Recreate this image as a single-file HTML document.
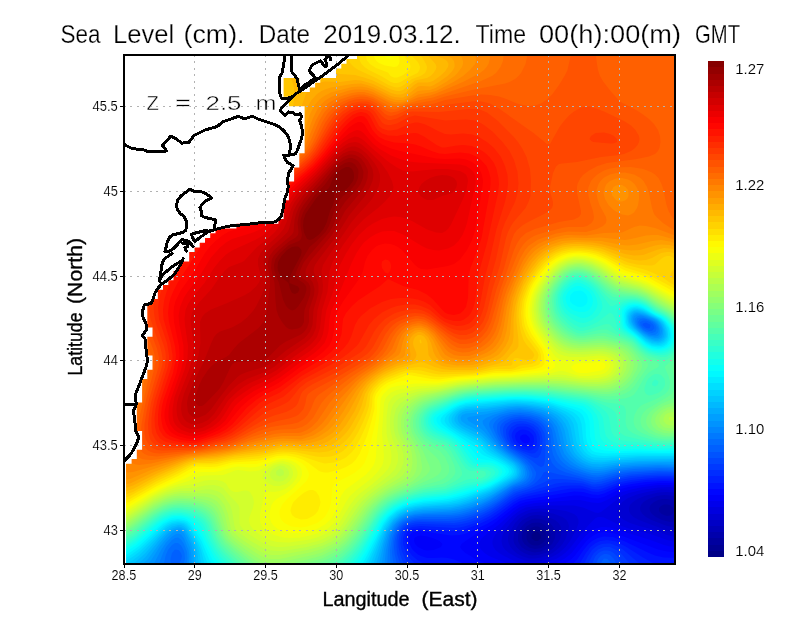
<!DOCTYPE html>
<html lang="en"><head><meta charset="utf-8"><title>Sea Level</title>
<style>html,body{margin:0;padding:0;background:#fff}body{width:800px;height:618px;overflow:hidden}svg{display:block}text{font-family:"Liberation Sans",sans-serif;fill:#000}.t{stroke:#fff;stroke-width:0.12px}.h{stroke:#fff;stroke-width:0.25px}.b{stroke:#000;stroke-width:0.35px}</style></head><body>
<svg width="800" height="618" viewBox="0 0 800 618">
<rect width="800" height="618" fill="#fff"/>
<defs><clipPath id="c"><rect x="124.0" y="55.0" width="551.0" height="509.0"/></clipPath><clipPath id="h"><rect x="126.0" y="55.0" width="549.0" height="509.0"/></clipPath></defs>
<g clip-path="url(#h)" fill-rule="evenodd">
<rect x="124.0" y="55.0" width="551.0" height="509.0" fill="#000086"/>
<path fill="#000093" d="M121 52l558 0 0 516-558 0 0-516zM535 531.5l-3.5 3.5 0 3 3.5 3 3 0 3-3 0-3-3-3-3-0.5z"/>
<path fill="#00009f" d="M121 52l558 0 0 516-558 0 0-516zM532 527.5l-3 2-1.5 2.5-1 3 0 3 1 3 1.5 2 3 2 3 0.5 3 0 3-1.5 3.5-3 1.5-3 0-3-1-3-2.5-3-4.5-2.5-3 0-3 1z"/>
<path fill="#0000ac" d="M121 52l558 0 0 516-558 0 0-516zM532 523l-5 3-2.5 3-1.5 3-1 3 0 3 0.5 3 2 3 4.5 3.5 6 1.5 6-1 3-1.5 3-2.5 2.5-3 1-3 0-3-1-3-2.5-4.5-3-3-3-1.5-3-0.5-6 0.5zM664 504.5l-3 1.5-2 2 0 3 2 2.5 3 1.5 3 1 3-0.5 2.5-1.5 1.5-3-1-3.5-3.5-2.5-2.5-0.5-3 0z"/>
<path fill="#0000b9" d="M121 52l558 0 0 452.5-2.5-2.5-3.5-2-6-1-4.5 0-4.5 1-4 2-3.5 3-1 3 0.5 3 2 3 4 3 6 3 8 2 6-1 3-2 0 49-558 0 0-516zM532 519l-6 3-4 4-2 3-2 6 0 6 1.5 3 2 3 4.5 3 6 2 3 0.5 6-1 6-3 5-4.5 3-6 0.5-6-1-3-2-3-2.5-3-3-2-6-2-6-0.5-3 0.5z"/>
<path fill="#0000c6" d="M121 52l558 0 0 446.5-5.5-2.5-3.5-0.5-6-0.5-7 1-8.5 3-5 3-2.5 3-1 3 0.5 3 2 3 3.5 3 5.5 3 15.5 6 6 1 6-1 0 42-558 0 0-516zM529 516.5l-6.5 3.5-3 3-2.5 4-2.5 5-1 6 0 3 1 3 2 3 3.5 3.5 4 2.5 5 2 3 0.5 6-0.5 9-2.5 4-2.5 3.5-3 4.5-6 1.5-3 1-6-1-6-2-3-3.5-3-8-3.5-9-1.5-6 0.5-3 1z"/>
<path fill="#0000d2" d="M121 52l558 0 0 442.5-6-2-6-0.5-9 0.5-6 1.5-7.5 2-7 3-4.5 3-3 3-1 3 0 3 1.5 3 3 3 5.5 3 28 10.5 6 1.5 6 0 0 36-558 0 0-516zM529 513l-6 3-3 2-5 5-3.5 6-3 6-0.5 3 0 3 1 3 1.5 3 2.5 3 4 3.5 6 3 6 2 6 0 6-1 6-2 5.5-2.5 4-3 3.5-3 2.5-3 3.5-6 2.5-9 0.5-3-1-3.5-1.5-2.5-4-3-9.5-3.5-12-2-6 0.5-6 1z"/>
<path fill="#0000df" d="M121 52l558 0 0 439.5-6-1.5-12-0.5-12 2-12 3-9 3.5-5.5 4-2.5 3-2 3-0.5 3 0.5 3 2.5 3 3.5 3 6 3 9 3 16 4 12 5 6 1.5 6 0.5 0 31-558 0 0-516zM526 511l-6 3-3 2-6.5 7-4.5 6-3.5 6-1 6 0.5 3 1 3 2.5 3 3.5 3 8 4.5 9 3.5 6 1 9-1 12-4.5 6-3.5 6.5-6 4.5-6 6.5-12 2-6 0-3-1.5-3.5-3-2.5-8-3-13-2-12-0.5-9 0.5-6 2z"/>
<path fill="#0000ec" d="M121 52l558 0 0 436.5-9-1.5-12 0.5-16.5 2.5-12.5 3-7 3-3 2-18 14-3 1-3-0.5-12-5-9-2-33 0-9 1-6 1-6 3-3 2-5.5 4.5-6 6-10.5 12-1.5 3-1 3 0 3 1 3 2 3 3.5 3 6 3.5 12 5.5 6 2 6 1.5 6 0 6-1.5 15-5 5-3 4-3 6-6 9-12 9-10.5 6-6 3-1.5 3 0 3 0.5 17.5 8.5 9 3 21.5 5.5 15 5.5 6 1.5 6 0.5 0 26-558 0 0-516z"/>
<path fill="#0000f9" d="M121 52l558 0 0 434.5-9-1.5-12 0-15 2-12 2.5-9 2.5-15 8-6 2.5-3 0.5-6-0.5-12-2.5-6 0-39 3-9 2-6 2-6 4-15 13.5-13.5 10.5-3.5 3-2 3-1 3 0.5 3 2 3 3 3 4.5 3 13 5.5 19.5 6.5-400.5 0 0-516zM595 529l6-2 3 0 6 0.5 39 12 15 5.5 6 1.5 9 0.5 0 21-139 0 16-5 9-4.5 6.5-5.5 9.5-12 5-5.5 6-5 3-1.5z"/>
<path fill="#0006ff" d="M121 52l558 0 0 432-9-1-12 0-12 1.5-17.5 2.5-9.5 2.5-15 7.5-6 1.5-6-0.5-12-2.5-6 0-21 3-21 2.5-6 1-6 2-6.5 4-20.5 16.5-14 7.5-13.5 9-4 3-1.5 3 2 3 3.5 3 10 6 11.5 5 14 4-380 0 0-516zM415 537.5l-0.5 0.5-0.5 3 1 3 3 3 6 3 3 0.5 6.5-0.5 7.5-3 1.5-3-3-3-7-3-5.5-1.5-6-1-3 0.5-3 1.5zM594 535l4-2 6-1 9 1 12 4 33 12.5 9 2 12 1 0 15.5-125.5 0 8.5-3 5-3 4-2.5 3.5-3.5 11.5-14.5 3-3 5-3.5z"/>
<path fill="#0013ff" d="M121 52l558 0 0 430-6-0.5-9-0.5-18 1-14 2-10 2-3.5 1-14.5 6.5-6 1.5-6-0.5-9-2.5-9-0.5-48 8-6 1.5-6 3.5-18 14-9 5.5-21 9.5-6 1.5-9 0.5-30-4.5-8 1-3.5 3-1 3 0.5 4.5 3 6.5 3 3 3 2.5 3 1.5 6 2 6 0 9-0.5 6 0.5 6 1.5 20 8.5-353 0 0-516zM523 434.5l-2.5 1.5-0.5 3 3 3.5 3 1 3-1 0.5-0.5 0.5-3-1-2-3-2.5-3 0zM597.5 538l6.5-1.5 9 0.5 11 4 25 12 6 2.5 9 2 15 0.5 0 10-113.5 0 5.5-3 3.5-3 3-3 6-9 5-6 3.5-3 5.5-3z"/>
<path fill="#0020ff" d="M121 52l558 0 0 428.5-9-1-9 0-15 0.5-15 2-12 2.5-15 6-6 1.5-6-0.5-9-3-3 0-9 0-9 1.5-33 6-9 2.5-6.5 3.5-14.5 11-9 6-12 5.5-15 5.5-6 1-6 0-30-2.5-9 0.5-3 1.5-1.5 1.5-1.5 3-0.5 6 1.5 6 2 4.5 3 4 6 5 6 3 6 1 12 0.5 3 0.5 6.5 2.5-330.5 0 0-516zM520 430l-4 3-1 3 0.5 3 1.5 3 3.5 3 5.5 2 3 0.5 3-1.5 2-4 0-3-0.5-3-1.5-2-3-3-3-1-3-0.5-3 0.5zM600 541l7-1 9 1.5 10.5 5.5 16.5 10.5 9 5 3 1 6 1 18 0 0 3.5-104.5 0 5.5-5 6-10 4.5-6 4.5-3.5 5-2.5z"/>
<path fill="#002dff" d="M121 52l558 0 0 426.5-9-1-12 0-27 2.5-12 2.5-15 5.5-6 1.5-6-0.5-6-2-6-1.5-9 0-9 0.5-39 9-6 2.5-6 3.5-12 9-9 6-12 6-12 4-6 1.5-6 0.5-33-2-9 1-4.5 2-2.5 3-2 6 0 6 3 9 3 4.5 6 6.5 5.5 4-299.5 0 0-516zM520 426.5l-3 0.5-3 2.5-2 3.5-0.5 3 2 6 3 3 6.5 4 6 1.5 3-0.5 3-2 1.5-3 0.5-3-0.5-6-1-3-2.5-3-4-2.5-3-1-6 0zM602 544l5-0.5 3 0 3 1 6 2.5 4.5 3 13.5 11.5 10.5 6.5-66.5 0 2.5-3 4.5-9 4-6 3-2.5 3-2 4-1.5z"/>
<path fill="#0039ff" d="M121 52l558 0 0 424.5-9-0.5-9 0-15 0.5-14.5 1.5-12.5 2-15 5.5-9 1.5-3-0.5-9-3-6-0.5-12-0.5-9 1-39 11.5-6 3.5-12 9-9 6-9 4.5-12 4.5-9 2-6 0.5-33-1-6 0.5-6 1.5-4.5 3-2 3-1.5 6-0.5 6 1 6 2.5 6 2 4 6 8-291 0 0-516zM517 424l-5.5 3-2 3-1 3 0.5 3 2 6 3 3.5 3 2.5 6 3 6 2 3 0.5 3-0.5 3-3 1.5-5 0.5-6-0.5-3-1.5-4-4.5-5-4.5-2.5-6-1-6 0.5zM604 547l6 0 6.5 3 4 3 7.5 8.5 7 6.5-49 0 6-12 2-3 4-3.5 6-2.5z"/>
<path fill="#0046ff" d="M121 52l558 0 0 423-9-0.5-12 0-27 1.5-12 2.5-18 5.5-6 0.5-3 0-9-3-9-1.5-12-1-9 0-6 2-18 8-13 4-5 3-12 9-9 6-9 4.5-12 4.5-6 1.5-9 1.5-33-1-6 0.5-6 1.5-3.5 2-3 3-3 6-1 6 0 6 1.5 7.5 3 7.5 3.5 6-285.5 0 0-516zM520 421l-6 1-3 1.5-3.5 3.5-1.5 3 0 3 1 6 4 6 6 5 15 7 3 1 3-0.5 2.5-3.5 1.5-6 0.5-9-1.5-7-3-4.5-4.5-3.5-7.5-2.5-6-0.5zM598.5 553l2.5-1.5 3-1 3 0 3 0.5 3 1.5 4 3.5 5 7.5 3.5 4.5-35 0 3.5-9 1.5-3 3-3z"/>
<path fill="#0053ff" d="M121 52l558 0 0 421.5-9-1-12 0-27 2-12 2-18 5-6 1-3-0.5-12-3.5-21-4-12-3-2.5 0.5-0.5 0-3.5 6-6.5 6-5.5 3-14.5 5-21 15-9 5-9 3.5-9 3-9 2-9 0.5-30-0.5-6 1-6 2.5-3 2-3 4-2.5 5-1 6 0 6 0.5 6.5 2.5 8.5 2 6-280.5 0 0-516zM511 420.5l-5.5 3.5-2 3-0.5 3 0.5 6 3 6 5 6 19.5 12 7 5.5 3 1.5 2.5-1 0.5-1 1-5 0.5-21-1-6-3.5-6-3-3-3-2-6-2.5-9-1-6 1-3 1zM600.5 556l3.5-2 3 0 3 1 4 4 4.5 9-24 0 3.5-9 2.5-3z"/>
<path fill="#0060ff" d="M121 52l558 0 0 419.5-21-0.5-27 1.5-12 2-18 5-6 0.5-6-1-24.5-7-5.5-2.5-3-2-4-4.5-2-5-1.5-7-0.5-12-1-6-2.5-6-2.5-3-4-3-9-3.5-9-1-6 1-3 0.5-6 3-3.5 3-1.5 3 0 3 0.5 3 1 3 3 6 5 6 17.5 12 5.5 6 3.5 6 0 3-1 3-2 3-3.5 3-3.5 2-12.5 4-14.5 11-9 5.5-9 4.5-9 3.5-9 2.5-9 1.5-9 0.5-21 0-9 0.5-6 1.5-4 2-4 3-2 3-3 6-1.5 6-0.5 6 0.5 6 3 15-276.5 0 0-516zM643 323.5l-0.5 1.5 3.5 3 3 0.5 1-0.5 0.5-3-1.5-1-3-1.5-3 1zM603.5 559l0.5-0.5 3.5 0.5 2.5 3 1.5 6-11 0 1-6 2-3z"/>
<path fill="#006cff" d="M121 52l558 0 0 418-18-0.5-27 1.5-12 1-21 5-6 0.5-6-1-15.5-4.5-7.5-3-4-2.5-4-3.5-2.5-3-2.5-5.5-1.5-6.5-1-12-1.5-6-1.5-3-3.5-4-6-4.5-6-2-9-1.5-9 0-9 3-5 3-2.5 3-0.5 3 0 3 0.5 3 3 6 4 6 6.5 6 13 9 5.5 6 2.5 6 0.5 3-1 3-2 3-4 3-11.5 4-3 2-12 9-9 5.5-9 4.5-9 3.5-9 2.5-9 1.5-9 0.5-21 0-9 1-6 1.5-6 3-3.5 3.5-2.5 3-2.5 6-1.5 6-1 12 2 15-273 0 0-516zM175 549.5l-3 3.5-1.5 6 0 3 1.5 4.5 3 0.5 3-2 3-4.5 1-4.5-1-3-2.5-3-3.5-0.5zM643 320.5l-3 1.5 0.5 3 2.5 3 6 3 3 0 2.5-3-1-3-3.5-3-4-1.5-3 0z"/>
<path fill="#0079ff" d="M121 52l558 0 0 416.5-18-0.5-27 1-15 2-15 3.5-6 1-6-0.5-9-2.5-10-3.5-5-2.5-4.5-3.5-3-3-3.5-6-2-6-2-12-1-6-3.5-6-3-3-4-3-3.5-1.5-9-2.5-9-1-9 1-9 2.5-3 1.5-3.5 3-2 3-0.5 3 1 3 4 9 4.5 6 6.5 6 12.5 9 5.5 6 2.5 6 0 3-1 3-2.5 3-5 3-8 3-17 12-9 5-9 4.5-9 3-9 2.5-9 1-27 0.5-9 1-6 1.5-6 3-3 2.5-4.5 5.5-3.5 9-2 12 0.5 18-208.5 0 3-9-0.5-6-1-3-2.5-4.5-3-2.5-3 0-3 2-4 5-2.5 6-2.5 12-42 0 0-516zM640 319l-2 3 1 3 4 4.5 3 2 6 1.5 3-1 1-1 0.5-3-1-3-3-3-6.5-3-3-0.5-3 0.5z"/>
<path fill="#0086ff" d="M121 52l558 0 0 415-21-0.5-24 1-15 1.5-15 3.5-6 0.5-6 0-6-1.5-9-3.5-6-3-6-5-2.5-3-1.5-3-2.5-6-3-15-2-6-1.5-3-5-5-7.5-4-10.5-3-9-0.5-9.5 0.5-11 3-6 3-3.5 3-1 3 0.5 3 4.5 9 6 9 6.5 6 13 9 5.5 6 2 6 0 3-1 3-3 3-12 5.5-21 14-9 4.5-9 3.5-12 3.5-9 1.5-27 0.5-9 1-6 1.5-6 3-4.5 3.5-2.5 3-2 3-3 6-1.5 6-1.5 9-1 18-201.5 0 2-9-0.5-7-3-8-3-4.5-3-2-3 0.5-3 2-6 7-3 6-4.5 12-2 3-35.5 0 0-516zM637 318.5l-0.5 3.5 1 3 2.5 3 3.5 3 5.5 3 3 1 3 0 1.5-1 1.5-1.5 0.5-1.5 0-3-1.5-3-2.5-3-6-3-5.5-1.5-3 0-3 1z"/>
<path fill="#0093ff" d="M121 52l558 0 0 413.5-21-0.5-24 1-15 1.5-15 3-6 0.5-6-0.5-6-1.5-6-2-6-3.5-4.5-3.5-2.5-3-2.5-3-2.5-6-3.5-15-1.5-6-4-5.5-3.5-3.5-5-3-3.5-1.5-9-2.5-12-1.5-12 1-15 4.5-7 3-3.5 3 0.5 3 10 15 5 6 6.5 6 12.5 9 3.5 3 2.5 3 1.5 3 0.5 3 0 3-1.5 3-3.5 3-9 4.5-21 13.5-9 4.5-9 3.5-12 3-9 1.5-27 1.5-9 1-6 1.5-6 2.5-6 4.5-3 3.5-4.5 9-1.5 6-2 9-2 18-195.5 0 1-12-1-6-4.5-11.5-3-4-3-1-3 1-3 2-6 6-5 7.5-7 13.5-3.5 4.5-29.5 0 0-516zM640 315.5l-3 1-2.5 2.5 0.5 3 1 3 2.5 3 4.5 4 6 3.5 6 1 3-0.5 1.5-2 0.5-3-0.5-3-1-3-2.5-3-5-3-8-3-3-0.5z"/>
<path fill="#009fff" d="M121 52l558 0 0 412-21-0.5-24 1-15 1-15 3-6 0.5-6-0.5-6-1.5-9-4.5-6-5.5-2.5-3-2-3-2-6-2.5-12-2-6-3.5-6-3.5-3-4-3-5-2.5-12-3-12-1.5-12 1-21 5-18 3-2 1 1.5 3 9.5 5.5 6 5 14.5 16.5 20 15 2.5 3 1.5 3 0.5 3-0.5 3-1.5 3-4 3-6 3-21 13-9 4.5-12 4.5-9 2.5-9 1.5-27 1.5-9 1-9 2.5-6 3.5-3 2.5-4.5 5-4.5 9-3.5 12-3.5 21-189.5 0 0-12-1.5-9-6-13.5-3-2.5-3-0.5-3 1-3 1.5-6 6-6.5 8-8.5 13.5-6.5 7.5-23.5 0 0-516zM637 314.5l-3 1.5-1 3 0.5 3 1.5 3 2 3 6 5 6 3.5 6 1.5 3 0 1.5-1 2-3 0.5-3-1-3.5-3.5-5.5-4-3-7.5-3-6-1.5-3 0z"/>
<path fill="#00acff" d="M121 52l558 0 0 410-42 0.5-18 1.5-18 3-9-0.5-6-2-6-3-5.5-4.5-2.5-3-2-3-2.5-6-3-15-2.5-6-5-6-4-3-5.5-3-6.5-2.5-6-1-9-1.5-9-0.5-9 1-21 4-21 2-4 1.5-1.5 3 1 3 4.5 3.5 9 4.5 6 3.5 6 5.5 9 10 20.5 15 2.5 3 1.5 3 0.5 3-0.5 3-2 3-1.5 1-24 15-9 4.5-12 4.5-12 3.5-9 2-27 1.5-9 1-9 2.5-6 3.5-7 6-5.5 9-4 12-5.5 24-184 0-0.5-15-2.5-9-4-8.5-3-5-3-2-3 0-3 0.5-3 1.5-5.5 4.5-7.5 9-11 15-9.5 9-17.5 0 0-516zM634 314l-1.5 2-1 3 0.5 3 1.5 3 2.5 3 4 4 6 4 6 3 3 0.5 3 0 3-1.5 1-1 1-3 0-3-0.5-3-1.5-3-2-3-4-3-9-4-6-1.5-3-0.5-3 1z"/>
<path fill="#00b9ff" d="M121 52l558 0 0 408.5-39 0.5-21 1.5-18 2-9-0.5-3.5-1-5.5-2.5-4.5-3.5-3-3-2-3-2.5-6-3-15-2.5-6-4.5-6-3.5-3-7.5-4-6-2.5-9-1.5-9-1.5-9 0-9 0.5-21 3-21 2-3.5 1-4 3-1 3 0.5 3 2 3 4.5 3 10.5 5 6 3.5 16 15.5 17.5 12 2.5 3 2 3 0.5 3-1 3-2 3-2.5 1.5-21 12.5-9 4.5-15 6-9 2.5-9 2-27 1.5-9 1.5-9 2.5-6 3-6 4.5-2.5 3-5.5 9-4 12-7 24-178.5 0-0.5-3-0.5-12-1.5-6-2.5-6-4.5-9-2-3-4-2-3-0.5-6 2-5 3.5-8.5 9-13.5 16.5-6 5.5-6 4.5-1 0.5-11 0 0-516zM634 312.5l-3 3-0.5 3.5 0.5 3 1.5 3 2 3 8.5 7.5 6 3.5 6 2 3 0 3-1 3-3 0.5-3 0-3-2.5-6-2-3-3.5-3-13.5-6-6-1-3 0.5z"/>
<path fill="#00c6ff" d="M121 52l558 0 0 407-42 0.5-18 1-18 2-9-0.5-5-2-4-2.5-3.5-3.5-2.5-3-3-6-3.5-18-2.5-6-2.5-3-3.5-3-5-3-6.5-3-12.5-3-12-1.5-9-0.5-9 0.5-21 3-21 1.5-6 2-4 4-1.5 3 0 3 2 3 3.5 3 3 2 12 6 6 3.5 13.5 12.5 18 12 3 3 1.5 3 0.5 3-0.5 3-3 3-24 14-21 8.5-9 3-9 1.5-27 2-9 1.5-9 2.5-6.5 3-7 6-6.5 9-5 12-9 27-172.5 0-0.5-3-2-15-3.5-9-6.5-12-3-2.5-3-1.5-3 0-6 1.5-6 4-7.5 7.5-13.5 15.5-9 8-10 6.5-5 0 0-516zM634 311l-3 2-1.5 3-0.5 3 0.5 3 1.5 3 2.5 3 12.5 10.5 6 3 6 1 3-1 2.5-1.5 2-3 0.5-3-0.5-3-2-6-2.5-3-3.5-3-14.5-7-6-1.5-3 0.5z"/>
<path fill="#00d2ff" d="M121 52l558 0 0 405.5-42 0-33 3-9.5-0.5-5.5-2-3-1.5-3-2.5-3-4-3.5-8-3-18-3.5-6-5-4-9.5-5-8.5-3-6-1-12-1.5-12-1-6 0.5-21 2.5-15 1-9 1-6 2-4 2.5-3 3-1.5 3 0 3 1.5 3 3 3 4.5 3 17.5 9 3 2 10 10 20 13 2.5 2 2 3 0.5 3-1 3-3.5 3-21.5 12.5-21.5 8.5-11.5 3.5-9 1.5-24 2-9 1-9 2.5-8.5 4.5-7 6-6 9-4 9-11.5 30-166 0-2-6-1.5-9-1.5-6-2.5-6-5.5-9.5-3-4.5-3-2.5-3-1-3 0-6 1-6 3.5-27 27.5-6 4.5-12 7.5 0-515.5zM634 310l-3 1.5-1.5 1.5-1.5 3 0 3 0.5 3 1.5 3 2 3 14 11.5 6 3.5 6 0.5 3-0.5 3-1.5 3-4.5 0.5-3-1.5-6-3.5-6-4.5-3.5-15-7.5-6-1.5-3 0.5z"/>
<path fill="#00dfff" d="M121 52l558 0 0 404-39 0-36 2-9-0.5-3-0.5-5-3-3-3-2-3-2-6-2.5-18-3-6-3-3-3.5-2.5-7.5-3.5-7.5-3-9-2-12-2-12-0.5-9 0-45 4.5-8.5 3-4.5 3-3 3-1.5 3 0 3 1.5 3 2.5 3 7.5 5 18 9.5 3 2.5 6.5 7 4.5 3 13 7.5 6 4.5 2.5 3 0.5 3-1.5 3-3.5 3-19 11-6 2.5-18 6.5-9 2.5-9 2-24 2-9 1.5-9 2-9 4.5-6 5-6.5 8.5-4 9-14.5 33-159.5 0-2.5-6-3-12-2.5-6-8.5-15.5-3-3.5-3-2-6-1-6 1-6 3-27 26-6 4.5-12 7.5 0-512zM631 310l-3 3-1 3 0 3 1.5 6 2 3 3.5 3 12 10 6 3 6 1 3-0.5 3-1.5 3-3 1-3 0-6-2.5-6-2-3-3.5-3-14-7.5-6-2.5-6-0.5-3 1.5z"/>
<path fill="#00ecff" d="M121 52l558 0 0 402.5-42 0-33 1.5-6-0.5-6-1.5-4-3-3.5-6-1.5-6-1.5-15-2-6-2.5-3-4-3-6.5-3-16.5-5.5-18-2.5-18-1-39 3.5-9 1-6 1.5-5.5 3-7.5 6-2 3-0.5 3 1.5 3 3 3 8 5.5 21 12 5.5 6.5 3.5 3 12.5 6 8.5 5.5 3 3.5 1 3-1 2-5 4-16 9.5-24 9-9 2.5-9 2-24 2-9 1.5-9 2.5-9 4-7.5 6-6.5 9-13 28.5-7 13.5-152.5 0-3.5-6-6.5-18-10.5-18-3-3-3-1.5-6-1-6 1-4 1.5-4.5 3-24.5 23-9 6.5-9 5.5 0-509zM631 308.5l-3 2-1.5 2.5-0.5 3 0 6 1 3 2 3 17 14 6 3.5 6 0.5 3 0 3-1 2.5-2 2-3 1-3 0.5-3-1.5-6-4.5-6.5-3-3-18-9.5-6-1.5-3 0-3 1z"/>
<path fill="#00f9ff" d="M121 52l558 0 0 401-18 0-24-0.5-30 1-6-0.5-6-1-3-1.5-2-2.5-3-6-1-6-0.5-12-1.5-6-1.5-3-3-3-6-3-23.5-7-18-2.5-18-0.5-39 3-9 1-9 3-5.5 3-8 6-2.5 3-0.5 3 1.5 3 7.5 6 22.5 15 4 3 5.5 6 2.5 1.5 12 5 9 5 3.5 3.5 0.5 3-2 3-8 6-9 5-6 2.5-23 7.5-10 2.5-9 1.5-18 1.5-12 2-9 3-8 4.5-7 6-4.5 6-16.5 32.5-7 12.5-145.5 0-5.5-9-7.5-18-9.5-15-2.5-3-2.5-2-3-1-6-1-7 1-8 4-24 22-9 6.5-9 5.5 0-506zM631 307l-4.5 3-1.5 3-0.5 3 0.5 6 1 3 2 3 18 15.5 6 3 6 1 3 0 3-1 3-2 3-4.5 1-3 0-3-1.5-6-3.5-6-5-4-6-3-12-7-6-2-6 1z"/>
<path fill="#06fff9" d="M121 52l558 0 0 399-18 0.5-24-1-21 1-12-1-6-1.5-3-1.5-2.5-2.5-1-3-1.5-6-0.5-15-2-6-2.5-3-3.5-3-4.5-1.5-24-6.5-15-2-21-1.5-42 3-9 1.5-6 1.5-6 2.5-14.5 9-3 3 0 3 1.5 3 3 3 14.5 9 12 9 5.5 6 5 6.5 3 1.5 12 2 4.5 2 5 3 2.5 3 1 3-2 3-8 6-6 3.5-6 2.5-33 10-9 1.5-18 1.5-12 2.5-9 2.5-9 5-6 5-6.5 8-14.5 28.5-10.5 16.5-138 0-6.5-9-10-21-9.5-15-5.5-3.5-3-1.5-6-0.5-3 0-6 1.5-7 4-26 22.5-15 9.5 0-503zM574 291.5l-3.5 3.5-0.5 3 0 3 2.5 3 4.5 2.5 3 0.5 3-0.5 3-2 1.5-3.5 0-3-1.5-3.5-3-3-3-1-3 0.5-3 0.5zM628 306.5l-3.5 3.5-1 3 0 6 1 6 1.5 3 3 3 8 5.5 9 8.5 6 3 6 1 3-0.5 3-0.5 3-1.5 3-3 1.5-3.5 1-3-0.5-6-3-6-5-6-3-2-8.5-4-6.5-4.5-6-3-6-0.5-3 0.5-3 1z"/>
<path fill="#13ffec" d="M121 52l558 0 0 397.5-18 0.5-24-1-18 0.5-12-1.5-6-2-3-2-3-5-0.5-6-1-12-1.5-6-2-3-3-3-4-3-3-0.5-30-6.5-24-2-18 0-33 2.5-9 1-6 1.5-6 2.5-18 10-2.5 3.5 0 3 1 3 4.5 4.5 13 7.5 8 6 6.5 6 8.5 12 3 2.5 12 0 3 1 5.5 2.5 3 3 1 3-1.5 3-3.5 3-4.5 3-9 4.5-36 10.5-24 2.5-12 2.5-9 3-9 4.5-7 5.5-5 6-18 32.5-6 9-5 6.5-130 0-9-11-12-23.5-7-10.5-5-4-3-1.5-6-1.5-6 0-3 0.5-9 4-6 4-21 18.5-6 4-9 5.5 0-500.5zM571 289l-3 3-1.5 3-1 3 0.5 3 1 3 2 3 5 3.5 6 1.5 3 0 3-0.5 3-1.5 3-4.5 1-4.5-1-4.5-2.5-4.5-3.5-3-6-3-3 0-3 1-3 2zM634 304l-6 1-3 2-2.5 3-0.5 3 0.5 9 0.5 3 1.5 3 3 3 8.5 6 7 7 6 4 6 2 6 0 6-2 3-2 2-3 1.5-3 0-6-1.5-6-4-6-4-4-3-2-7-3-8-5.5-6-3-6-0.5z"/>
<path fill="#20ffdf" d="M121 52l558 0 0 396-18 0.5-24-2-18 0.5-6-1-6-2-3.5-2-2.5-3-1-3-1.5-15-2-6-4.5-6-3.5-3-5.5-2.5-33-6-24-2-18 0.5-33 2-9 1.5-6 1.5-6 2-18 9-3.5 3-1.5 3-0.5 3 1 3 2 3 3 3 14.5 7.5 6 4.5 5.5 6 8.5 12 2.5 3 4.5 2 9-0.5 6.5 1.5 4.5 3 1 3-1 3-3.5 3-4.5 3-7 3-14 3.5-21 6.5-6 1-18 2-12 2.5-9 3-9 4-6 4.5-3 3-5 6-19 33-6 8.5-5.5 6.5-122 0-7.5-7.5-5.5-7.5-5-9-7.5-16.5-3.5-4.5-3.5-3-5-3-3-1-6-1.5-9 0.5-9 3.5-6.5 4.5-20.5 17.5-6 4-9 5.5 0-498zM577 282.5l-3 1-3 2-3 2.5-3.5 4-1.5 3-0.5 3 1 6 1.5 3.5 2 2.5 4 3.5 9 4 3 0.5 3-0.5 3-1 3-2 3.5-4.5 1.5-3 0.5-3-1-6-3-6-4.5-4.5-6-3.5-3-1-3-0.5zM628 303.5l-3 1.5-3 2-1.5 3-0.5 3 1.5 12 1 3 2.5 2.5 9.5 6.5 8.5 8.5 3 2 6 3 6 1 3 0 6-1.5 3-2 4-5 1-3 0-6-1-3-2.5-6-4.5-5.5-4.5-3.5-7.5-3.5-6-4.5-6-3.5-6-1.5-3-0.5-6 1z"/>
<path fill="#2dffd2" d="M121 52l558 0 0 394-21 0.5-21-2-18-0.5-6-2-4.5-3-2.5-3-1.5-6-1.5-12-3.5-6-6.5-6-5-3-5-1.5-36-5.5-24-1.5-15 0-33 2.5-9 1-6 1.5-6 2-21 10.5-3 3-1.5 3-0.5 3 0.5 3 1.5 3 3 3.5 4 2.5 12.5 6 4 3 6 6 7.5 12 2.5 3 2.5 2 3 1.5 3 0.5 9 0 6 1.5 2.5 3.5-1 3-3.5 3-4 2.5-6 2.5-15 3-21 7-18 2-12 2.5-12 3.5-9 4-8 6-5.5 6-19.5 32.5-9 11.5-6.5 7-114 0-11.5-11.5-4.5-6.5-5-9-6.5-15-2-3-3-3-6-3.5-6-2.5-6-1-9 0.5-9.5 3.5-8.5 6-18 15-6 4.5-9 5 0-495.5zM577 280l-3 1-4 2-5 5-3 4-2 6 0.5 6 1.5 4 3 5 6 5 6 3.5 3 1 3 0.5 3-0.5 6-2.5 6-4.5 3.5-5.5 1-3-0.5-3-0.5-3-3-6-4-6-3.5-3-5-3.5-6-2.5-3 0zM625 303l-2.5 1-3.5 3-1.5 3 0 3 1.5 6 0.5 6 1 3 2.5 3 11 7 9 9 6 4 6 1.5 6 1 6-1.5 4.5-3 2.5-3 1.5-3 1-3 0-6-2-6-4-6-2.5-3-4-3-9-4.5-9-6.5-6-2.5-3-1-6 0-6 1.5z"/>
<path fill="#39ffc6" d="M121 52l558 0 0 392.5-12 0.5-9-0.5-36-4-4-1.5-4-3-2-3-1-3-2-12-1-3-2-3-3.5-3-4-3-5.5-3-7.5-3-35.5-5-24-1.5-18 0-30 2-12 1.5-12 3.5-21 9.5-3 2-2.5 3-1.5 3-0.5 3 0.5 3 1 3 2 3 3.5 3 3.5 2 12 5.5 5.5 4.5 4.5 6 7.5 12 3.5 3.5 3 1.5 3 0.5 9 0 3 1 4 2.5-0.5 3-3 3-6.5 3-15 2.5-21 7.5-21 2.5-9 2-15 5-8.5 4.5-6.5 5-4 4-4.5 6-9.5 16.5-9 13.5-9 10.5-8 7.5-106 0-12-12-6-7.5-5.5-10.5-5-12-1.5-3-2.5-3-4-3-6-3-5.5-1.5-6-1-6 0-6 1-9 4-6 4.5-18 15-6 4-9 5 0-493zM571 280l-6 5-3.5 4-3 6-0.5 6 1 6 3 6.5 6 6.5 6 4.5 6 3 3 0 6-1.5 8.5-4 12.5-9.5 3 2 2 4.5 1.5 6 1 3 2.5 3 4.5 3 9.5 5.5 9 9 6 4 9 2.5 6 0 3-1 3-1.5 3-2.5 3-4 2-6 0-3-1-6-3-6-2.5-3-4.5-5-3-2-9-4.5-9-6.5-3-1.5-6-2-6-0.5-6 1-8 3-4 2-3 0-12.5-17-7-6-5-3-5.5-2-3 0-6 2z"/>
<path fill="#46ffb9" d="M121 52l558 0 0 281.5-2-5.5-2-3-5-6.5-6-4.5-8-4-10-7-6-3-6-1-6 0-12 1.5-3 0-3-1.5-3-2.5-10-10.5-3.5-3-7.5-4.5-6-2.5-3 0-4 1-5 3-3.5 3-2.5 3-4 6-1 3-1 6 0 3.5 1.5 5.5 3 6 7.5 8 5 4 4 2 3 1 3 0 6-1.5 15-5 3-0.5 3 0.5 6 6.5 3 2 13.5 7 7.5 7.5 6 5 6 2.5 9 2 3 0 3-0.5 6-4 3.5-3.5 2.5-6 0 99.5-12 1-12-1-17.5-3.5-12.5-3-4.5-3-2-3-0.5-3-1.5-12-1.5-3-3.5-3-6-3-14-6-5.5-1.5-36-5-24-1.5-21 0.5-27 2-12 1.5-12 3-23 10-3.5 3-2.5 3-1 3-0.5 6 2.5 6 4 4.5 6 3.5 10 4 4 3 5 6 7 12 4 5.5 3 2 3 0.5 9-0.5 3 0.5 1.5 1 0.5 3-2 2-3 1.5-12 0.5-3 1-16 7-5 2-21 3-12 3-12 4-9 4.5-6 4.5-6 6-4.5 6-13.5 22.5-9 11.5-9 8.5-7.5 5.5-96.5 0-15.5-15-5-6-5-9-5.5-14-3-4.5-3-2.5-6-3.5-6-2.5-6-1-6-0.5-6 1-6 1.5-4.5 2-7.5 5-21 17-12 6.5 0-490.5zM655 379.5l-2.5 2.5-0.5 3 3 1.5 2.5-1.5 1-3-0.5-1-3-1.5z"/>
<path fill="#53ffac" d="M121 52l558 0 0 277.5-4.5-7.5-6-6-4.5-3-6-3-12-8.5-6-2.5-6-1.5-15 0-6-0.5-6-4-9-8.5-5.5-4.5-6.5-3.5-6-2-3 0-6 1.5-6 4-3 3-3 4-3 5-1 3-1 6 1 9 1 3 3 5 3 4 6 5.5 5 3.5 4 2 3 0.5 3 0 18-4 6 0 8.5 4.5 15.5 7 3 2 6 7 6 4.5 3 1.5 12 4 3 0 3-0.5 3-2 6-5 3-4.5 0 93-12 0.5-12-1-15.5-4.5-7-3-4-3-2-3-1-6 0.5-9-0.5-3-1.5-3-5-2-9-1-6-1-16.5-5-37.5-5-24-1-24 0.5-24 2-12 1-12 3.5-24 9.5-3 2-3 3.5-2.5 5-0.5 3 0.5 6 2.5 5 3 3.5 6 4 12 5 3 2.5 3 4 10 18 1 3 0 3-2.5 3-4 3-10.5 5.5-3 0.5-15 2-9 2.5-18 6-6 2.5-6 3.5-6 5-5 5.5-16 25-9 11.5-9 8.5-6 4.5-7 4.5-87.5 0-16.5-15.5-6-7-4-7.5-6-15-4.5-6-3.5-3-6-3-6-1.5-6-1-6-0.5-6 0.5-6 2-6 2.5-6 4-21 16.5-12 6.5 0-488zM652 375.5l-4 3.5-1.5 3-2 6 0 3 1.5 3 3 1.5 3-0.5 6-2 3-2 2.5-3 1.5-3 0-3-0.5-3-3.5-4-3-1-3 0-3 1.5zM477.5 475l0.5-0.5 3 0.5-3.5 0z"/>
<path fill="#60ff9f" d="M121 52l558 0 0 275-3.5-5-5.5-6-3.5-3-11-6-9.5-6.5-9-3.5-6-1-12-0.5-6-1.5-6-4-9-8-6-4.5-6-3-6-1.5-3 0-6 1-4.5 3-4.5 4-4 5-3.5 6-1.5 3-1 6 1 9 3 8 6 7.5 6 5.5 3 1.5 6 3 6 0.5 15-2.5 6-0.5 3 0.5 18 6.5 6 3 9 9 6 5 3 2 6.5 2 3.5 3-0.5 3-6.5 3.5-3 2-3 3-2.5 3.5-6.5 11.5-3 4-3 2-6 2-12 1-6 0-21-4.5-33-4-21-1-21 0-33 2-15 2-10.5 3-23 9-5.5 4-4 5-1.5 6 0.5 6 1 3 4 6 3 3 6 4 9 4 4.5 4 4 6 4 9 1 6-1 3-2.5 3-3.5 3-6 3-21.5 4.5-24 8.5-9.5 5-7.5 6-5 6-14 21.5-6 8-6 7-6 5.5-6 4.5-6 3.5-8 4-76.5 0-17.5-16-7.5-8-4.5-8-6-15.5-3-4-3-3-6-3.5-6-2-6-1-6-0.5-6 0-6 1.5-6 2-9 5-21 16.5-12 6.5 0-486zM677 355l2-2.5 0 86.5-9 0.5-6 0-6-1-6-1.5-10-4-4.5-3-2.5-3-1-3-0.5-3 1-6 2.5-5 3.5-4 2.5-1.5 12-5 5-2.5 5-3 3-3 1.5-3 0.5-6-1.5-6-4-9 12.5-12z"/>
<path fill="#6cff93" d="M121 52l558 0 0 272.5-6-7-5-4.5-10-5.5-9-6.5-6-3.5-6-2-18-2-6-2-6-4-13-10.5-5-3-6-2-6-0.5-3 0-6 2.5-6 5-4 4-4 6-2.5 6-1.5 6 0 6 1.5 6 2.5 6 5 6.5 5.5 5.5 4 3 5.5 2.5 3 1 6 0.5 15-2 6 0 18 5 5.5 2 3.5 2.5 15 15.5 2 3-0.5 3-13.5 19.5-4.5 4.5-4.5 2.5-6 2-9 1-9-0.5-15-2.5-27-3-18-1.5-27 0-36 2-12 1.5-9 2-24 8-6 3-5 3.5-4.5 6-2 6 0.5 6 2.5 6 5.5 7.5 6 5 10 5.5 5 6 4 9 0 3 0 3-1.5 3-3 3-5.5 3-15 4-24 9-9 4-6 3.5-6 5-6 7-15 22.5-9 11-6 5.5-6 4.5-9 5.5-9 3.5-6 2-62 0-19-16.5-7.5-7.5-5.5-9-6-15-4-6-3.5-3-3.5-2-6-2-6-1.5-9-1-6 0.5-6 1-6 2.5-10 5.5-20 15-12 7 0-484zM677.5 358l1.5-1.5 0 80.5-12 0.5-9-1-9-3.5-4-3-3-3-1-3-0.5-3 0.5-3 1-3 2-3 3-3 20.5-12 4-3 2-3 1-3 0.5-6-2.5-12 0-3 1-3 4-6z"/>
<path fill="#79ff86" d="M121 52l558 0 0 270.5-9-9.5-12-7-12-8-9-3.5-15-2.5-6-1.5-6-3-13.5-10.5-7.5-4.5-6-2-6-0.5-6 1-5.5 3-6.5 6-5 6-3 6-2 6-1 6 0.5 6 2 6 2.5 5.5 3 4 6 6.5 6 4 6 3 3 0.5 6 0.5 15-1.5 6 0 18 4.5 6.5 3 3.5 3 5 6 4 6 1 3 0 3-1 3-8 12-5 5.5-3 2-6 2.5-9 2-9 0-18-2.5-36-3.5-24-0.5-27 1-24 2-12 2-27 8.5-9 4-5 4-4.5 6-1.5 6 0 6 2 6 4 6 8 9.5 9 8.5 3 3.5 2 5.5 0.5 3-1 3-2.5 3-5 3-24 10.5-15 6-6 3-6 4-4 3.5-5.5 6-14.5 21.5-9 11.5-6 5.5-6 4.5-6 3.5-9 4-21.5 6.5-44.5 0-6-4.5-15-12.5-9-8.5-5-7.5-7-18-5-6-4-3-3-1.5-12-3-9-0.5-6 0.5-6 1-6 2-6 3-6 4-18 13.5-12 6.5 0-481.5zM678.5 364l0.5-1 0 13-1-6 0.5-6zM677.5 394l1.5-3 0 44-9 1-6-0.5-8-2.5-5-3-3-3-1.5-3-0.5-3 0.5-3 1.5-3 2-3 3.5-3 7.5-5 12-5.5 2-1.5 2.5-3z"/>
<path fill="#86ff79" d="M121 52l558 0 0 268.5-9-9-12-7-12-8-9-3.5-15-2.5-6-2-6-3.5-15-11-6-3-6-2-6-0.5-6 1-6 3-5.5 4.5-5 6-4 6-2.5 6-1.5 6 0 9 1.5 6 3 6 5 7 5 5 4 3 6 3 9 2 6 0 12-1.5 9 0.5 15 4 6 3.5 6 6.5 3 6 1 3-0.5 3-1 3-5.5 9.5-5.5 5.5-4.5 3-8 3-6 1-9-0.5-39-4-12-1-24 0-27 1-24 2-12 1.5-29 9-7.5 3-5.5 4-4.5 5-2.5 6-1 6 0.5 3 1.5 6 3 5.5 8 12.5 6.5 15 0.5 3-1 3-2.5 3-8 6-11 6-16.5 7-6 3.5-6 4.5-9 9-15 22-9 10.5-6 5-6 4-12 6-33.5 9.5-26.5-0.5-6-3-6-4.5-15-12-7.5-7-2.5-3-3-6-5.5-15-2.5-4.5-3-3.5-3-2-6-3-12-2.5-9-0.5-6 0.5-6 1.5-6 2-11 6-22 16-9 4.5 0-479.5zM672 403l4-1.5 3-1.5 0 32.5-9 1-6-0.5-3-1-4.5-2-3.5-3-1.5-3-0.5-3 0.5-3 1-3 2.5-3 3.5-3 5.5-3.5 8-2.5z"/>
<path fill="#93ff6c" d="M121 52l558 0 0 266.5-5.5-5.5-3.5-3-10.5-6-13.5-9-9-3.5-15-3-6-2-6-3.5-12-9-9-4.5-6-2-6-0.5-6 1-6.5 3-5.5 4.5-6 7-4 6.5-2.5 6-1.5 6 0 9 1 6 2.5 6 4.5 6.5 6 6.5 6 4.5 6 3 9 1.5 18-1 6 0 12 2.5 9 4 3 2.5 2.5 3 3 6 0.5 3-1 6-3 6-2.5 3-3 3-5.5 4-6 2.5-6 1-12 0-36-3.5-12-1-24 0-30 1.5-21 2-12 1.5-30 8.5-9 3.5-5.5 4-5 6-2.5 6-1 6 1 6 1 3.5 3 5.5 5.5 9 2.5 6 2 12 0 3-1 3-1.5 3-6.5 6-5 3-17 7.5-6 3.5-6 4.5-6.5 5.5-5 6-12.5 18.5-9 11-6 5-6 4-12 6-9 2.5-33 8.5-9 0-6-1-3-1.5-6-3-9-6.5-12-9.5-6-5.5-5-7.5-6-18-4-6-4-3-5-2.5-12-2.5-9-1-6 0.5-6 1-9 2.5-12 6.5-21 15.5-9 4 0-477zM672.5 406l6.5-1 0 25-9 1.5-7-1.5-5-3-2-3-1-3 0.5-3 1.5-3 4-4.5 6-3 5.5-1.5z"/>
<path fill="#9fff60" d="M121 52l558 0 0 264.5-9-8-9-5-15-10-9-3.5-15-3-6-2-6-4-12-8.5-9-5-9-2-6 0.5-6 1.5-6 3.5-6 5.5-6 8-4 7.5-2 6-1 9 0.5 6 1.5 6 3 6 5 6.5 6 6.5 6 4 6 2.5 9 1.5 18-1 6 0 9 2 6 2 3 1.5 3 2.5 3 3.5 2 4.5 0.5 3-1 6-1.5 3-3 4.5-5 4.5-4 2.5-6 2.5-6 1-12-0.5-36-3.5-18-0.5-42 1.5-27 2.5-12 2-28 7.5-5 1.5-6 3-6 4.5-3 3-3.5 6-1.5 6 0 6 1.5 6 2.5 6 6 9 2.5 9 0.5 6-0.5 6-1 3-1.5 3-3 3-3.5 3-19.5 9.5-12 8.5-9 9-15 21.5-7 8.5-5 4.5-6 4-12 6-9 2.5-33 7.5-9 0.5-5-1-4-1.5-9-5.5-15-11-6-5-3-3.5-3.5-6.5-4.5-15-3-6-2.5-3-4-3-3.5-1.5-9-2-18-1-6 0.5-9 2-12 6-24 16.5-9 4.5 0-475zM671.5 409l7.5-0.5 0 18.5-6 1.5-6-0.5-3.5-1-3-3-1-3 0-3 1.5-3 3-3 3-2 4.5-1z"/>
<path fill="#acff53" d="M121 52l558 0 0 262.5-8.5-7.5-21.5-13-9-4.5-18-4-6-2.5-18-12.5-9-4.5-9-2-6 0.5-6 1.5-6 3.5-6 5-7 8.5-3.5 6-2.5 6-1.5 6-0.5 9 2 9 3 6 4 6 6 7 6 5 6 3 6 1.5 6 0.5 18-1 6 0 9 2 6.5 3 3.5 3 2.5 3 1 3 0.5 3-1 6-3.5 6-3 3-4 3-5.5 2.5-6 1-6 0.5-9 0-27-3-12-0.5-24 0-36 2-21 2-12 1.5-30 7.5-6 2-5 2.5-4.5 3-6.5 6-3 6-1 6 0 6 1 6 2.5 6 6 9 1.5 6 0.5 9-1 6-1 3-2 3-5.5 5-18 10-12.5 9-8.5 9-14.5 21-6.5 7.5-9 7-12 5.5-12 3.5-30 6.5-9 0-3-0.5-6-2-6-3.5-12-8-6-4.5-6-5-2.5-3.5-1.5-3-3.5-15-2.5-6-2-3-3-3.5-3-2-3-1.5-6-1.5-24-1-9 1-6 2-12 5.5-24 16.5-9 4.5 0-473zM672.5 412l3.5 0.5 3 1 0 9.5-3 1.5-3 1-3 0-3-1-1-0.5-2.5-3 0-3 1.5-3 2-1.5 3-1 2.5-0.5z"/>
<path fill="#b9ff46" d="M121 52l558 0 0 260-6-5-24-14.5-9-4.5-21-5.5-6-3-12-9-9-5-9-2.5-6 0-9 1.5-6 3-6 5-6.5 7.5-4 6-4.5 9-1.5 6-0.5 9 2 9 2.5 6 4 6 7.5 9 4 3.5 6 3.5 6 2 9 1 18-1 6 0 6 1.5 6 2.5 3 2 2.5 3 1.5 3 0.5 3-1 6-3.5 6-3.5 3-5.5 3-6 1.5-6 0.5-15-0.5-21-2.5-12 0-54 1.5-30 3-9 1.5-18 4.5-15 3-6 2-6 3-6 4-5 5.5-3 6-0.5 6 0 6 1 6 2.5 6 5.5 9 1.5 6 0 9-1.5 6-1.5 3-2 3-3.5 3-17.5 10.5-9 7-6 5-6.5 7.5-14.5 21-6 7-9 6-9 4-15 4-27 5-9 0-9-2.5-9-5.5-9-6-6-4.5-5-4.5-2-3-3-15-3.5-9-4.5-6-3-2.5-3-1.5-6-1.5-27-0.5-6 1-9 2.5-12 5.5-24 16.5-9 4 0-470.5zM668.5 418l1.5-1.5 3 0.5 1.5 1-1.5 2.5-3 0.5-1.5-3z"/>
<path fill="#c6ff39" d="M121 52l558 0 0 258-6-5-24-14.5-9-4-21-6-6-3-12-9-9-4.5-9-2.5-6 0-9 1.5-6 3-6.5 5-7.5 9-4.5 6-4 9-2 9 0 6 1.5 9 2.5 6 5.5 8.5 6 7.5 6 5.5 6 3.5 6 1.5 9 0.5 18-1 6 0.5 6 1.5 4.5 2 3 3 2 3 0.5 3 0 3-0.5 3-3.5 5-6 4.5-6 2-6 0.5-15 0-21-2.5-9-0.5-57 2.5-30 3-9 1-18 4.5-18 3-9 3.5-7 3.5-5 3.5-4 5.5-1.5 6-1 6 0.5 9 1.5 6 6 12 2 6 0 9-2.5 6-4.5 6-25 18-10 9-4.5 6-12 18-5 6-8 6-10 5-15 4-24 4-6 0-6-0.5-9-3-12-7-12-8.5-2.5-3-1-3-2.5-15-2-6-2-3-5-7-3-2.5-3-1.5-6-1.5-6 0-9 1.5-15 0-6 1-9 2.5-12 5.5-24 16-9 4.5 0-468.5zM280 468.5l-3 2-1 1.5 0.5 3 3.5 1.5 3.5-1.5 0.5-3-1-2-3-1.5z"/>
<path fill="#d2ff2d" d="M121 52l558 0 0 255.5-6-4.5-24-14-9-4-21-6-3.5-2-14.5-10-9-4.5-9-2.5-9 0-6 1.5-7.5 3.5-7 6-7.5 9-4 6-4.5 9-1.5 6-0.5 9 1.5 9 2 6 5 8 9 11.5 4.5 4.5 4.5 2.5 6 2 6 0.5 9 0.5 18-1 6 1 3 1 3.5 2.5 2.5 3 1 3 0 3-1 3-2 3-3 3-4 2-9 2-15 0-18-2.5-9-0.5-63 3.5-30 3-24 5-21 3-8 2.5-10 4-3 2-2.5 3-2 3-1.5 5.5-1 6.5 0 9 1 6 1.5 6 4.5 11 1 4 0 6-0.5 3-2.5 6-5.5 6-23 18-6.5 6-7.5 9-9.5 15.5-6 7.5-6 4-9 4.5-6 2-10.5 2.5-13.5 2-9 1-6 0-6-1-9-3.5-12-7.5-7-6-2.5-3-1-3 0-15-1-3-2.5-3-7-7-6-7-3-1.5-6-1.5-9 0.5-9 2-15 1-9 2-6 2-12 5.5-24 16-9 4 0-466zM280 465.5l-3 1-4 2.5-2.5 3-0.5 3 1 3 3 2.5 3 1 3 0 3-0.5 4-3 2-3 0-3-1-3-4.5-3-3.5-0.5z"/>
<path fill="#dfff20" d="M121 52l558 0 0 253-6-4-24-14-9-4-21-6-18-12-9-4-9-2-9-0.5-9 2.5-6 3-6 5-9 11-4 6-4 9-2 9-0.5 6 1.5 9 2 6 4 7 9 12.5 6 7 3 2.5 6 2 6 1 12 0 15-1.5 6 0.5 3 1 3 1.5 2 2.5 1.5 3 0 3-0.5 2-2.5 4-3.5 2.5-3 1-6 1.5-6 0.5-12-0.5-15-3-6-0.5-15 1.5-57 3.5-27 3-21 4-21 2.5-18 4.5-6 2.5-3 3-2.5 4-1 6-1 9 0 15 1 6 3.5 12 0.5 6-0.5 5.5-1.5 3.5-1.5 3-5.5 6-10 9-12 9-6 6-4.5 6-9 15-4 6-6 5-9 4.5-6.5 2.5-8.5 2-18 2.5-12-0.5-6-1.5-6-2.5-6-4-6-5-2.5-3-1-3-0.5-3 0.5-3 3.5-9.5 1-5.5-1-4.5-3-5.5-3-1.5-3 0-6 1.5-3 0-3-1-3-2.5-3-5-3-2-6-1.5-6 0-6 0.5-11.5 3.5-15.5 2.5-12 4-12 5.5-24 15.5-9 4 0-463.5zM274 465l-6 4-3 3-2 3-0.5 3 2.5 3 4.5 3 4.5 2 6 0 6-2 3.5-3 2.5-3.5 1-2.5 0-3-1-3-3-3.5-6-2-3 0-6 1.5z"/>
<path fill="#ecff13" d="M121 52l558 0 0 250.5-6-4-24-13.5-9-3.5-16-4.5-5-2-15-10.5-6-3-6-2.5-9-1.5-9-0.5-9 2.5-6 3-7 5.5-8 9-4 6-5 9-2.5 9-1 9 1 9 2.5 7 4.5 8 13.5 19.5 3 3.5 3 2 3 1 6 0.5 18-0.5 12-1.5 6 0.5 4 2 2 3 0 3-1.5 3-3.5 3-4 1.5-12 1.5-9 0-6-1.5-9-3-3-0.5-3 0-9 2.5-9 1-30 2.5-21 1-33 3.5-18 3.5-24 1.5-18 3.5-6 2.5-4.5 4.5-1.5 3-1 3-2 30 2 24-1 6-1 3-4.5 6-5.5 6-15.5 12-6.5 6-4 6-8 15-4 6-6 5.5-9 4.5-9 2.5-9 2-9 0.5-9-0.5-9-2.5-5.5-3-4-3-2.5-3-1.5-3-0.5-3 0-6 4-18 1-3 3-1.5 6 0.5 6-1 6-2.5 6-4.5 4.5-6 1-3 0-3-1-3-2-3-5.5-3.5-6-1.5-3 0.5-6 1.5-15 7.5-3 0.5-6 0.5-12-1.5-3 0.5-9 3.5-3 1-18 0.5-6 1-10.5 4.5-19.5 6-9 4-9 5-21 13-9 4 0-461z"/>
<path fill="#f9ff06" d="M121 52l558 0 0 248-6-3.5-27-15-9-3-15.5-4.5-17.5-11.5-9-4-9-2.5-9-0.5-9 1.5-9 3.5-6 4-3.5 3.5-7.5 9-4 6-3.5 6-2.5 6-1.5 6-1 9 1 9 3 9 3.5 6 10 15 4 9 4 6 0 3-4 3-10 2.5-30 3-21 1-15 2-18 1.5-21 3.5-21 0-18 2.5-6 1.5-3 2-4.5 4.5-2 3-1 3-1 15-3 27-0.5 15-1.5 6-1.5 3-3 4-4.5 5-20.5 15-4 6-5.5 15-4.5 8-6 5.5-9 5-9 2.5-6 1-9 0-6-1-6-2-3-1.5-3-2.5-2.5-3-1-3-1-3 0.5-6 1.5-6 2-3 3-3 9.5-5.5 6-4.5 7.5-8 2.5-6 0-3-0.5-3-2-3-3.5-3-4-2-6-1.5-3-0.5-6 1-15 5.5-6 1.5-6 0.5-12-1-6 1-12 3.5-6 1-12.5 0-5.5 1-12 6-24 10-9 4.5-21 13-9 4 0-458.5zM574.5 364l5.5-1 9 0 12-1 3 1 1 1 0.5 3-1.5 2-3 1.5-14 2.5-7 0-3-0.5-4-2.5-2-3 3.5-3z"/>
<path fill="#fff900" d="M144.5 52l242 0-1.5 0.5-1 2.5 2 3 2 1 3-0.5 0.5-0.5-0.5-3.5-3-2.5 291 0 0 245.5-30-16.5-9-4-18-5-18-11.5-9-3.5-12-2.5-9-0.5-9 2-9 4.5-9 7.5-6 7.5-5 7.5-3.5 6-2 6-2.5 12 0 9 2 9 4.5 9 10 15 1.5 3 2 9 1 3-0.5 3-6.5 3-7 1-24 3-18 0.5-18 3-18 1-18 3-6 0-18-1.5-6 0-12 2-9 3.5-6.5 5.5-3.5 6-1 3 0 12-2 12-7 30-3.5 9-3.5 4.5-6 5-6 3.5-10 5-4.5 3-2 3-0.5 3-1 12-1.5 6-1.5 3.5-3 5-3 3-5 3.5-4 1.5-6 2-6 1-9-1-3-1-4.5-2.5-3-3-1.5-3-0.5-3 0-3 2.5-6 5-6 8-7 11.5-11 1.5-3 1-3-0.5-3-1.5-3-2-3-3.5-3-6.5-3.5-9-2-9 0.5-12 3.5-9 2.5-21 0-18 4.5-21 1-15 8-24 10.5-27 16-9 4 0-413 10-13 6-9 4-9 3.5-12z"/>
<path fill="#ffec00" d="M177.5 52l195.5 0 1.5 6 2 3 2.5 2 6 2.5 9 1.5 3-0.5 2-2.5 0.5-3-0.5-3-1.5-6 281.5 0 0 242.5-30-16.5-6-2.5-16.5-4.5-4.5-2-17-10-10-4-9-2-9-0.5-9 1-6 2-6 3-6 4-5 5.5-7 8.5-4.5 6.5-3 6-3 9-1.5 6-0.5 6 0 6 2 9 4 9 10.5 15 2 6 0.5 9-3 3-6.5 2-24 3.5-18 0.5-18 3-18 1-18 2.5-7.5-0.5-22.5-4-3 0.5-18 7-4 2.5-3.5 3-4.5 6-1 3-0.5 3 0 9-3 12-4.5 15-7.5 18-4 6-3.5 3.5-6 3.5-6 2.5-12 3-3 0-3-0.5-3-1-10.5-8-5-3-8.5-3-9-1.5-9 0.5-12 3.5-9 1.5-24 1.5-15 4-6 0.5-15-0.5-5.5 2.5-12.5 7-21 10-27 15.5-9 3.5 0-383.5 12-10.5 26-20 9.5-9 4.5-6 2.5-6 2-9 0-9zM303.5 493l3.5-2 3-1 3 0 3 1.5 3 4.5 1.5 6-0.5 3-2 6-2.5 3-2.5 2-6 3-6 0.5-6-2-3-2.5-1.5-4 0.5-3 1-3 1.5-3 4.5-4.5 5.5-4.5z"/>
<path fill="#ffdf00" d="M209.5 52l155.5 0 2 8.5 3 3.5 6 4 12 4.5 2.5 3.5 3.5 1.5 3 0 3-1 3-1.5 6.5-5 1-3-0.5-3-4.5-6-2.5-6 276 0 0 239-30-16-6-2-18-5.5-18-9.5-9-4-9-2-9-1-9 0.5-9 2-6 3-6 4-5 4.5-5.5 6-4.5 6.5-5 8.5-2.5 6-3 9-1 9 0 6 0.5 6 1.5 6 4.5 9 9 12 2 6 0 6-1.5 3-1.5 1-6 2-9 1-12 3-15 0-21 3.5-33 2.5-9-0.5-21-4-7 0.5-14 5.5-6 3-5 3.5-4 4.5-2.5 4.5-1 3-0.5 9-2 9-4.5 12-5.5 12-5 9-3 4-6 5.5-6 3-6 2-9 1-6-1.5-21-7-9-1.5-6 0-6 0.5-18 4.5-27 2-15 3.5-6 0.5-15 0-4.5 1.5-13.5 7.5-21 10-27 15.5-9 3 0-361 9-7.5 9-6.5 18-10 18-7.5 31.5-9.5 6.5-3 3.5-3 2-3 1-3-0.5-6-2.5-9-7-21z"/>
<path fill="#ffd200" d="M235 52l122 0 3 9 1.5 3 3 3 4.5 3 13 6.5 9 5.5 3 1 3 0 3.5-1 8.5-5 8.5-4 2-3 0.5-3-1-3-2-3-6-6-2-3 270 0 0 235.5-8.5-4.5-9.5-6.5-9-4-6-2.5-21-5.5-18-9-9-3.5-9-2-9-0.5-9 0-9 2-6 2.5-6 4-6 5-6 7-5 7-5 9-3.5 9-2 6-1.5 12 0.5 6 0.5 6 2 6 2.5 6 11 15 1 3-0.5 3-1.5 3-1.5 1.5-4 1.5-11 1.5-6 3-3 0.5-15 0-24 4.5-33 1-6-1-12-3-9-0.5-6 0.5-6 2-15 6-6 4.5-5 5-3.5 6-0.5 3-1 9-2 6.5-3.5 8.5-5.5 11.5-4 6.5-5 6.5-6 5.5-6 3.5-6 2-9 0.5-6-0.5-21-4.5-12-0.5-6 0.5-18 4-27 3-15 3-6 1-15 0-8.5 3-12.5 6.5-18 8.5-27 15-9 3 0-341.5 12-10 12-8 12-6 15-5.5 15-3.5 15-1.5 15-0.5 24 1 9-0.5 9-2 4.5-3 2-3 1-6 0-3-2-6-4.5-9-16.5-24-8.5-15z"/>
<path fill="#ffc600" d="M256 52l88 0 3 6 4 6 3 3 4.5 3 17.5 8 12.5 7 5.5 2 3 0.5 3-0.5 3-1.5 9-6.5 8.5-3 4.5-3 1.5-3 0.5-3-1-3-3.5-6-5-6 261.5 0 0 230.5-4.5-2.5-3.5-3-0.5-3 4-6 1-3 0-3-1-3-1.5-1.5-3-1.5-3 0-3 1-3 2-6 5.5-3 1-3 0-12-1-9-2-24-10.5-12-3-9-1-9-0.5-9 1.5-6 2-6 2.5-6 4-5 4.5-5 6-5 7-4.5 8-4 9-3 9-1.5 9-0.5 6 1.5 12 1.5 6 2 6 2.5 4 7 8 1.5 3-1.5 3-1 1-3 0.5-3 0.5-9-2-3 0.5-1.5 2.5 0 3-1.5 1.5-18 1.5-15 4-6 0.5-30 0.5-6-1-12-3.5-6-0.5-12 1.5-6.5 1.5-8.5 3.5-6 3-6 3.5-6 6-3.5 5-1.5 3-2.5 12-1.5 4-3.5 8-5.5 10.5-5 7.5-4 4.5-6 5-6 3.5-6 2.5-9 1-30-3-9 0-18 4-27 3-18 4-24 1.5-6 2.5-30 14-24 13.5-6 2-6 1.5 0-323 12-11 12-8.5 15-8 15-5 15-3 15-1.5 12 0 27 1 12.5-0.5 11.5-2 3-1 5-3 4-5 2.5-7 0.5-6 0-6-1.5-9-2-6-2.5-5-14.5-22-6.5-12z"/>
<path fill="#ffb900" d="M275 52l49.5 0 0.5 6 1.5 6 1.5 3 2.5 3 3.5 2 6 2 15 1 9 2.5 9 3 18 9 6 1.5 3 0 3-1 12-9.5 12-2.5 3.5-2 3-3 2-3 1-3-1-3-10.5-12 254 0 0 205.5-3-3-2.5-1.5-3.5-1-3 0-6 1-9 5-6 2-6 0.5-6-0.5-9-2-15-6-9-3.5-9-1.5-9-1-9 0-6 0.5-6 1-6 2.5-9 5-8 7-9 12-6.5 12-4.5 12-1.5 6-1 9 0 9 2 18 0 6-1.5 3-6 5-6 7-6 2.5-24 6-3 0.5-21 0-9-1-7.5-2-10.5-4.5-3-0.5-24 6.5-9 4-6 3-6 4.5-5.5 5-2 3-3.5 6-3.5 12-3.5 8-7.5 13-4.5 6-6 6-4 3-5 3-6 2-9 1.5-6 0.5-21-1.5-9 0-18 4-27 3.5-18 3.5-24 2-7 2.5-29 13-24 13-6 2-6 1 0-305 11-12 13-10 12-7 15-6 15-4 15-2 15-1 30 0 15-1.5 12-2.5 5.5-2 4.5-3 2.5-3 2-3 2.5-9 3-21 0-12-1.5-6-1.5-3-11-16.5-5-10.5zM421 339.5l-1.5 0.5 0.5 3 1 0.5 0.5-0.5-0.5-3.5z"/>
<path fill="#ffac00" d="M432.5 52l246.5 0 0 200-6-3-3-0.5-6-0.5-6 1.5-15 5.5-9 0.5-9-1.5-21-7-12-2-12-1-9 0-9 1.5-6 2-9 4.5-8.5 7-7 9-7.5 12-6 15-3 12-1.5 12 0 18-1 6-3.5 6-4 5-3 3-3 2-4 2-19 6-4 0.5-21 0-9-1.5-6-3-3-2-2.5-3-2-3-1-12-1-3-2.5-3.5-3-1.5-3 0-3 2-1.5 3-0.5 3 0.5 3 2.5 6 0.5 3-1 3-2.5 3-4 2-12 3-12 5.5-7.5 4.5-7 6-3 3-4 6-8.5 19.5-9 14.5-4 5-5 5-9 6.5-6 2.5-9 1.5-6 0.5-21-0.5-6 0-15 3.5-24 3.5-24 4.5-21 2-6 1-8.5 3-24.5 10.5-24 12-6 2-6 0.5 0-78 3-7 0.5-3 1.5-18-1-15-1.5-6-2.5-9 0-150.5 1.5-2.5 10.5-12.5 12-10.5 6-4 9-5 15-6.5 12-3.5 15-2.5 15-1.5 30-1 15-2 15-3 9-4 4.5-4 3.5-6 3-9 4.5-18 4.5-12 4-6 3-3 3-1.5 3-1 6-1 15 0.5 15-2 6 0.5 12 3.5 18 9 6 1.5 3 0 3-0.5 3-1.5 8-7.5 4-2.5 9 0 3-0.5 3-1 7-5 5-4.5 3-4.5 0.5-3-1.5-3-2-1.5-9-4-3.5-3.5z"/>
<path fill="#ff9f00" d="M440 52l239 0 0 196-9-3-9-0.5-6 1-15 4.5-9 0.5-9-1-21-5.5-9-1.5-15-0.5-12 1-12 3.5-9 4.5-6 5-6 6.5-7 11.5-7.5 15-4 12-2 12-1.5 21-1.5 6-3 6-4.5 6-3 3-5 3-16.5 6-4.5 1-15 0.5-12-2-5-2.5-4-4-2.5-5-2.5-9-3-6-4-3.5-3-1.5-3 0-4 2-3 3-1.5 3 0 6 1 9-0.5 3-1 1-2.5 2-9.5 2.5-12 5.5-11 7-7 6-7 9-11 20.5-8.5 12.5-8 9-9.5 6-7 2.5-6 1.5-9 1-15-1-6 0.5-63 12-27 3-9 3-27 10.5-24 11.5-3 0.5-6 0 0-64 6.5-17 2-12 0.5-15-0.5-9-1.5-9-3-9-4-10.5 0-122 7.5-11.5 10.5-12.5 12-10 12-8 15-6.5 12-3.5 15-3 42-3.5 15-2.5 18-4.5 9-4 3-2 3-3 3-5 2.5-7 5-18 2.5-6 3.5-6 5.5-6 4.5-3 3.5-1.5 6-2 21-3.5 9-0.5 6 1.5 6 2 18 9 3.5 1 5.5 0.5 3 0 3-1.5 12-9.5 3-0.5 9 0.5 3-1 6-3.5 8.5-6 3.5-3.5 2-2.5 1.5-3 0-3-0.5-3-2.5-3-3.5-2-6-2.5-2-1.5z"/>
<path fill="#ff9300" d="M456 52l223 0 0 192.5-9-3-9-1.5-9 1-15 3.5-9 1-6-0.5-21-4-27-1-12 1-12 4-9 5-6 5-6 7-5.5 9-7 15-4.5 12-2.5 12-3 21-2.5 9-2 3.5-4 5.5-3 3-4.5 3-15.5 6-6 1.5-12 0-9-1.5-5.5-3-2.5-3-7-15-4.5-6-4-3-3.5-1-3 0-3 0.5-5 3.5-2.5 3-1.5 6-1 12-2 2.5-12 5.5-9 5-11.5 8-7 6-7.5 9-13 21-8.5 12-6.5 6.5-9 6-6 2.5-9 2-6 0.5-12-0.5-9 0.5-54 11.5-33 4.5-10 2.5-29 10-21 9-3 0.5-6-1 0-47 10-28.5 2.5-18 1-15-1-9-1.5-6-11-29.5 0-91.5 7-14 8-12 9-10 12-10 12-7.5 12-5.5 12-4 12-2.5 42-5 15-3 18-5 12-5.5 3-2 3-3 3-4.5 8.5-25.5 4.5-9 5-6 3-2.5 3-2 6-3 21-5.5 9-0.5 6 1 6 2 18 9 5.5 1.5 3.5 0 3 0 3-1 12-8 3-0.5 9-0.5 5.5-2 10.5-6 8.5-6 3-3 4.5-6 1-3 0-3-1-3-2-3-4-3z"/>
<path fill="#ff8600" d="M473.5 52l205.5 0 0 189-15-4.5-6-1.5-6 0-6 0.5-15 3.5-6 1-24-2.5-15 0.5-15-0.5-12 1.5-9 3-9 4.5-6 4-6 6.5-5 8-9 18-4.5 12-3.5 12-3.5 21-2.5 9-2 4-3.5 5-3 3-5.5 3.5-12 5-6 2-9 0-9-1.5-5.5-3-2.5-3-9-15-5.5-6-4.5-2.5-3-1-6 0.5-6 3-3 3-1.5 3-2 6-2 9-2 3-27.5 18-11.5 9-10 12-21.5 30-6 6-9 5.5-6 2-6 2-18-1-9 1-21 4.5-24 6.5-15 2.5-29 4-52 15-6 0.5-3-1.5-3-4 0-14.5 5-22.5 6.5-21 2-9 3.5-21 0.5-12 0-6-2.5-9-10-27-5-16.5 0-52 3.5-12.5 5-12 6.5-11 7-10 8.5-9 11-9 9.5-6 13-6 11-3.5 12-3 36-5.5 18-4 18-6 9-3.5 6-3.5 5-4 4-6 9-24 4.5-9 5-6 3.5-3 5-3 7-3 11-3.5 6-1 6 0 6 0.5 6 2 15 8 6 2 6 0.5 6-1.5 12-6.5 12-2 6-1.5 17.5-9 9.5-6 7-6 5-6 1-3 0-3-2.5-6zM616 185.5l-2.5 1.5-1.5 3-0.5 3 1 3 3.5 4 3 1.5 3 0 3-1 2-1.5 1.5-3 0-3-0.5-3-2.5-3-3.5-2-3 0-3 0.5z"/>
<path fill="#ff7900" d="M489.5 52l189.5 0 0 185-24-9-9-2-6-0.5-6 1.5-12 5.5-18 0.5-18 2.5-15-0.5-6 0-9 2-11.5 4-6.5 3-6 4.5-4 4.5-5 7.5-10.5 22.5-5 12-3 12-3.5 18-3 9-2 4-3.5 5-3 3-5.5 4-9 4-6 2-9 0-6-1-5.5-3-3-3-11-15-7-6-6.5-2.5-3 0-6 1-6 4-3.5 3.5-3 6-3 9-1.5 3-3 3-11.5 9-18 12-7 6-16.5 18-12.5 18-5 6-5.5 5-6.5 4-8.5 3-18 0-9 1-24 5.5-21 6.5-21 3.5-21 2.5-36 8.5-12 1.5-3-0.5-4.5-1.5-2.5-3-1-3 0-6 0.5-12 2-12 5.5-21 2.5-12 3.5-18 1-12-0.5-6-1.5-6-10.5-27-4.5-15-2-15-0.5-9 0.5-9 1-9 2-9 5-15 7.5-15 5.5-8.5 5-6.5 9-9 10-8 9-5.5 12-5.5 18-5.5 36-6.5 15-4 21-7 15-7.5 6-4.5 4.5-6 10.5-25 6-10.5 6.5-6.5 8.5-5 6-2.5 9-2.5 6-1 6 0 9 2.5 18 9 6 1 6-1 15-6 12-2 6-2 27-11.5 17-9 4-3 2.5-3 2-3 1.5-6-0.5-6zM610 181l-3.5 3-1.5 3-1.5 6 1.5 6 3.5 6 4.5 4.5 3 2 6 3 6 1 3-1 3-2 3-4.5 1-3 1-6 0-6-1-3-1.5-3-2-3-3.5-3-3-1.5-6-1.5-6 0.5-6 2.5z"/>
<path fill="#ff6c00" d="M504 52l175 0 0 180.5-7-3.5-9-6-6.5-6-2.5-3-2-6-3-15-2-6-3.5-6-3-3-6.5-3.5-9-2-9 0.5-6 1.5-6 3-3.5 3.5-2 3-2 6 0 3 1 6 2 6 6.5 12 0.5 3-0.5 3-3 3-6 3-11 3-18-0.5-12 2-18 6-6 4-3 2-4 4.5-5 8.5-13 30.5-4 12-4.5 21-3 9-2.5 4.5-3 4.5-3 3-6 4.5-6 2.5-6 2-6 0.5-6-1-6-2.5-3-2.5-13.5-15.5-7.5-5.5-6-2-3-0.5-6 1.5-6 2.5-4.5 4-4.5 6-5 12-5 6-11 9-18 12-14 12-9.5 9-5 6-12 18-6 6-4.5 3-6 2.5-3 0.5-15 0-9 1-21 5.5-24 8-24 4-21 3-24 4.5-9 1-6-0.5-3-0.5-4-2-2.5-3-2-6-0.5-6 0.5-9 1.5-9 10.5-48 1.5-9 0-6-2-10.5-10-25.5-3.5-12-2-15-0.5-9 0.5-9 1-9 2-9 5.5-15 7.5-15 5.5-8 6-7 9-9 8-6 10-6 9-4.5 18-5.5 33-7 15-4.5 21-8.5 9-4 8.5-5 6.5-5.5 3-4 3-5.5 9-21 5.5-9 6.5-6.5 9-6 12-4 6-1 6 0 9 2.5 15 8.5 6 1.5 6-1 18-5.5 15-3 48-16.5 11-5 4-3 4.5-6 2.5-6 1-9z"/>
<path fill="#ff6000" d="M528 52l151 0 0 172-6-5.5-4.5-7.5-2-6-3-15-2-6-3-6-3.5-3.5-4-2.5-7.5-3-12.5-2-15 0.5-6 1-6 2-6 3.5-4.5 4-2.5 3-2.5 6-0.5 3 0.5 6 1.5 6 3 9 1 6-0.5 3-2 3-4.5 3-4 1-15 0-6 1-21 5.5-6 2-4.5 2.5-4.5 3.5-3 3.5-3 4.5-3 6-13.5 33.5-3.5 12-4.5 18-3 9-2.5 5-3 4-6.5 6-5.5 3-6 2-6 0.5-6-1-6-3.5-17-16-7-5-6-2-3 0-6 1-7.5 3-4.5 3-3 3-4 6-6 12-4.5 6-6.5 6-23.5 15-19.5 15-6.5 6-5 6-8.5 15-6 6-5 3-7 2-15 0.5-9 1.5-18 5.5-21 8.5-32 6-43 5.5-9-1-3.5-1.5-2.5-2-3-4-1-3-1-6 0.5-9 2.5-15 10.5-45 1-9-1.5-9-10.5-27-3-12-2-15 0.5-15 1-9 2-9 5.5-15 8-15 5.5-7.5 6.5-7.5 6-6 8.5-7 9-5.5 9-4.5 15-5.5 33-8 12-3.5 21-9 12-6 9-5.5 6.5-5.5 5-6 3.5-6 9-19.5 6-9.5 7-7 8-4.5 6-2.5 6-1.5 6-1 6 0.5 6 2 3 1.5 12 8 6 1 6-1.5 6-2.5 6-1.5 21-3.5 12-4 27-6.5 33-6.5 4.5-1.5 5.5-3 3.5-3 2.5-3 4.5-9 2.5-12z"/>
<path fill="#ff5300" d="M571.5 52l24 0 1.5 12 1 6 2 6 3.5 6 7 9 8.5 9.5 3.5 2.5 14.5 7.5 6 4 6 4.5 5 5 4 6 2 6 0.5 6-1 6-1.5 3-3 3-6 2.5-12 2.5-30 4-9.5 3-8.5 4.5-6 4.5-2.5 3-3 6-0.5 3 0 6 4 18 0 3-2 3-5 2.5-15 2.5-24 7-9 4-5.5 5-3.5 5.5-3 6.5-7 21-6.5 18-9.5 33-4 8.5-5.5 6.5-4 3-5.5 3-6 1-6 0-6-2.5-3-2-17.5-14.5-6.5-4-3-1.5-6-1-3 0-6 1.5-9 4-4.5 4-5 6-8 15-5 6-4.5 4.5-22.5 13.5-31.5 21.5-2.5 2.5-2 3-3.5 9-3.5 6-3.5 4-6 3.5-6 1.5-12 1.5-9 1.5-12 4-24.5 11-5.5 2-30 6-39 3.5-6-0.5-3-1-3-1.5-2.5-2.5-2-3-2-6-0.5-6 0.5-9 4.5-24 8-30 1.5-9-1-6-1.5-6-8-21-3.5-12-2-15 0.5-15 1.5-9 2-9 3.5-9 4-9 9-15.5 6-7.5 6.5-7 11.5-9.5 6-4 9-4.5 15-5.5 30-8 12-4 21-10 21-12 6.5-5.5 5.5-6 5.5-9 9.5-19 6-8.5 5.5-5.5 3.5-3 9-4.5 6-2 6-0.5 9 1 6 3 9 7 3 1.5 3 1 6-1 12-5 21-2 6-1.5 9-3 27-4.5 9-1 9 0.5 9 1.5 6 2 12 5 6 1.5 6 1 6-0.5 6-2 6-4 5.5-5.5 6.5-9 5.5-9 3-6 4-18z"/>
<path fill="#ff4600" d="M352.5 103l8.5-1.5 6 0 3 1 6.5 3.5 8.5 8 3 1.5 3 0.5 6-1.5 12-5.5 24-1.5 15-3 24-3 6-0.5 6 1 6 1.5 9 5 34.5 24.5 13.5 11 3 0 9.5-17 4.5-6 5.5-6 4.5-3.5 6-3.5 3-1 6-0.5 6 1.5 9 3.5 20 9.5 7 4.5 4.5 4.5 3.5 6 0.5 3-0.5 3-1.5 3-2.5 3-4 3-7 3-5 1-18 2-24 5-15 1.5-3 0.5-3 2.5-3 6.5-3 14 0.5 6 2.5 9 0 3-1 3-3 3-5 3-15 7.5-6 3.5-6 5-3 4-3 8-7 26-7.5 21-8 30-4.5 9-3 3.5-6 5-3 1.5-6 1.5-6 0-3-1-9-5-18-13.5-6-3-6-1-3 0-9 2-9 4-4 3-3 3-4.5 6-8 15-4.5 5.5-3.5 3.5-35.5 21-17 9-5 3-4 3-1.5 3-1 6-2 6-2.5 3-3 3-3 1.5-6 2-12 2.5-9 2.5-12 5-21 11-9 3-24 5.5-9 1.5-30 1-6-0.5-4.5-2-3.5-3-3.5-6-1-6 0-9 2-12 2.5-12 9.5-33 0.5-6 0-3-2-9.5-8-20.5-2.5-9-2-9-0.5-12 1.5-12 2.5-12 5.5-15 6.5-12 8-12 7.5-9 8.5-7.5 10.5-7.5 10.5-5.5 9-3.5 30-8.5 15-5.5 21-11.5 21-13.5 6-5.5 5.5-6.5 5.5-9 10-18 6-8.5 3.5-3.5 5.5-4.5 9.5-4.5z"/>
<path fill="#ff3900" d="M351.5 106l3.5-1 6-1.5 6 0.5 3 1 3 1.5 3 2.5 6 7 3 2.5 3 1.5 3 0 6-1.5 12-6.5 3-0.5 27 0.5 30-3 9.5 0 8.5 3.5 11 8.5 15 15 5 6 4 6 4.5 9 3.5 12 1 12-0.5 15-2 6-3 6-11.5 13.5-3 4.5-3 6-2 6-6 27-7.5 24-5 21-2 6-2.5 6-5 6.5-6 4.5-6 2-6 0-6-1.5-6-3.5-18-13-6-3-3-0.5-6-0.5-6 0.5-9 3-9 4.5-6 5.5-5 7.5-7 13-3 4-3 3-5.5 4-24.5 14-24 12-6.5 4-3.5 3-2 3-3 9-2 3-4 3-6 3-12 3.5-9 3.5-28.5 17-6 3-4.5 1.5-24 6-9 1.5-27 0-6-1-3-1-3-2-2-2-2-3-1.5-6-0.5-9 1-9 2-12 3-11 7-22 1.5-6 0-6-1-6-1.5-6-6.5-18-3-9-1.5-9 0-9 1-12 3-12 5-12 6-12 7.5-12 7.5-9 9-9 11-8 9-5 9-3.5 27-8 12-4.5 15-8.5 30-20 9-8 5-6.5 14.5-24 6-9 7.5-7 8.5-5zM595.5 133l8.5-0.5 6 1.5 4 2 2 2 1 1 0 3-1 0.5-3 1-3 0-16.5-1.5-1.5-0.5-2.5-2.5 1.5-3 4.5-3z"/>
<path fill="#ff2d00" d="M351.5 109l3.5-1.5 6-1 6 0 3 1.5 3 2 2 2 7 10.5 3 2 3 0.5 3 0 6-1.5 12-6.5 6-1.5 30 5 21-1 9 1 3 1 6 3.5 9 7 9.5 10 7 9 4.5 9 3.5 12 1 12-1 9-2.5 9-10 20.5-3 8-6 28.5-7.5 27-4.5 21-2 6-2.5 6-4.5 6-4 3-5 2-6 0.5-6-1-6-2.5-6-3.5-12-9.5-6-3-3-1-6-1-6 0.5-9 2-6 2-9 5.5-6 6-4.5 6-7.5 14-3 4-3 3-24 15-30 15-7.5 6-7.5 9.5-3 3.5-3 2-6 3-9 3.5-6 3-24 17.5-9 5.5-8 3.5-28 7.5-6 0-18-0.5-7-1-5-1.5-3-2-2-2.5-3-6-0.5-6 0-9 1-9 2-9 10.5-33 1-9-0.5-6-1.5-6-7.5-21-1.5-6-1-6-0.5-9 1-9 3-12 4.5-12 7-13.5 8.5-13.5 7.5-9 8-8 9-7 6-3.5 9-4.5 30-9 12-5.5 12-7.5 33-24 6.5-6 7-9 13.5-21.5 6-8.5 6-6.5 8.5-5.5z"/>
<path fill="#ff2000" d="M351.5 112l3.5-1.5 6-1.5 6 1 3 1.5 3 3.5 6 11 3 2.5 6 2 3 0 6-1 12-5.5 6-1.5 3 0 6 1.5 6.5 3 8.5 4.5 6 2.5 6 0.5 12-1 9 1 6 2 9 5.5 7 6 7 9 4 9 2.5 9 0.5 9-1 9-2 9-8.5 27-6.5 29-5 19-5 27-2 7-2 5-4 5-3 2.5-6 2-6 0.5-6-1.5-6-2.5-4.5-3-10.5-9-3-1.5-6-2.5-6-1.5-9 0-9 1.5-6 2-9 4.5-8 6.5-5 6-10 18-2.5 3-6.5 6-8 6-8 5-30 16-6 4.5-9 8.5-6 5-18 8.5-6 4.5-19.5 17-8 6-6 3-5.5 2-24 7-6 0-15-1.5-9-1.5-3-1.5-3-2-3.5-5.5-1.5-6-0.5-9 1-9 2-9 10.5-33 1-6 0-6-2-12-8-24-1-12 2-12 2.5-9 3.5-9 6.5-12 8.5-14 7.5-10 7.5-8.5 7.5-6.5 7.5-5 9-4.5 9-3 18-5 12-5.5 9-6.5 36-28 6-5.5 8-9 16-24 6-8 6-6 5.5-4z"/>
<path fill="#ff1300" d="M352.5 115l5.5-2.5 3-0.5 3 0.5 3 1 3 3 5.5 10.5 2 3 4.5 3.5 6 2 9 0.5 12-2.5 6-0.5 3 0.5 6 3 12.5 8.5 5.5 2.5 3 0 12-2 6-0.5 9 1 6 2.5 6 3.5 5.5 5 4.5 6 2.5 6 2 9 0.5 6-1 9-11 50-8.5 31-3.5 27.5-1.5 5.5-2.5 6-2.5 3-2.5 2-3 2-3 1-6 0-6-1.5-3-1-3.5-2.5-11.5-11-6-3.5-6-2-9-1.5-9 0-9 1-9 3-12 6.5-9 7.5-3 3.5-3 5.5-4 12-3 6-5 6-6.5 6-8.5 6-26.5 15-21.5 16.5-15 7-5.5 3.5-9.5 8.5-12.5 12.5-8.5 7-10 5-23 7-6 0-10.5-1-7.5-1.5-6-2.5-3-2.5-3.5-5.5-1.5-6 0-9 1-9 1.5-6 11-33 1-6 0-6-2-12-7-24-0.5-9 1-9 2.5-9 3.5-9 5-9 11-18 6-9 7-8.5 6-6 9-6.5 6-3.5 9-3.5 21-6 9-4 6-4.5 19.5-17.5 19.5-15.5 9-8.5 10-12 17-24 6-6.5 6.5-5.5z"/>
<path fill="#ff0600" d="M354.5 118l3.5-1.5 3-0.5 3 0.5 3 3 5.5 10.5 2.5 3 4 4 6 3 9 2.5 15 1 6 1 6 2 10.5 4.5 7.5 2.5 6 0.5 15-1.5 9 1 6 2.5 3 1.5 3 2.5 5.5 6 2.5 6 1.5 6 0 6-1 9-8 45-3.5 10.5-7.5 19.5-1.5 6-0.5 6-0.5 18-2 9-3 4-3 2.5-6 1.5-6-1-3-1.5-2.5-2.5-9.5-10.5-6-5-9-4.5-15-4-15-7-8 7-22 14.5-6 5.5-6 7-3 6-1.5 15-2 6-3 6-5.5 6-7.5 6-22.5 13.5-21 15.5-18 9-6 4-9 7.5-14.5 16.5-6.5 5.5-6.5 3.5-7.5 3-16 5-6 0-9-1-6-2-5-2-4-3-3-5-1.5-7-0.5-6 1-9 1.5-6 9.5-27 2.5-12 0.5-6-1-9-6-24-1-9 1-9 1.5-6 2.5-6 4.5-9 21-33 4.5-6 5.5-6 7.5-6 7-4.5 9-3.5 15-3.5 6-2 6-3 6-4.5 23.5-24 24.5-21 8-9 22-28.5 6-6 5.5-4.5zM382 261.5l-0.5 3.5 0.5 3 3 4.5 3 1 2-2.5 1-3 0-3-1-3-2-2-3-0.5-3 2z"/>
<path fill="#f90000" d="M354 124l4-2 3 0 3 2 5.5 9 6.5 7 6 4.5 9 4 9 2.5 36 7.5 9 0.5 15-0.5 6 1 6 2.5 5 4 2.5 3 2.5 6 1 6-0.5 6-7.5 44-3 9-5 10-7 9.5-6 4.5-6 2-21 3.5-6-0.5-3-1.5-3-2.5-12-14-5-4-4-2-3.5-1-5.5-0.5-6 1.5-3 1.5-4 3.5-4.5 6-2.5 6-2 9-2.5 6-17.5 24.5-6 10.5-2.5 7-0.5 12-2 9-3 6-6 6-7 5.5-15 9-21 15.5-6 3.5-15 7.5-9 6-9 8-14 17-8 6-13.5 6-6.5 2-6 1-6-0.5-6-1.5-3.5-1-5.5-3-3-3-3-6-1.5-6 0-6 2.5-12 9.5-27 2.5-12 0.5-6-0.5-9-5-24-0.5-9 0.5-6 1.5-6 5.5-11 11.5-16 12.5-21 4.5-6 6-6 7.5-6 5-3 4-1.5 21-5 6-3 6-4.5 6-6 15.5-19 6-6 20.5-18.5 8-8.5 19-23 9-9.5 5-3.5z"/>
<path fill="#ec0000" d="M357.5 130l3.5 1 3 2.5 9 10 6 5 12 7 9 3.5 9 2.5 9 1 42 2 6 1.5 4.5 3 3 3 1.5 3 0.5 3 0 6-8.5 39-2 6-2.5 6-4 6-4.5 4.5-6 3-9 2-6-0.5-6-1.5-6-3-18-11-9-3.5-6 0-6 0.5-6 2.5-6 3.5-6 5-3.5 4.5-4 6-4.5 9-11 27-10 22.5-1.5 7.5-1 12-1.5 6-2.5 6-5.5 6-6 5-15 10-18 13.5-9 5-17 8.5-9 6-7 6-3 3-10 15-5 4.5-6 4-9 4-9 2.5-3 0.5-6-1-9-3-3.5-2.5-2.5-3-2-3-1.5-6 0-6 0.5-6 1.5-6 10.5-30 2.5-12 0-12-4-21-1-9 1.5-9 4-9.5 3.5-5.5 11.5-15 12-19.5 9-10 6-5 6-3.5 21-6.5 6-2.5 6-4 6-6 12.5-18 7-9 5.5-6 20-18.5 24-27.5 9-7.5 6-3 2.5-0.5z"/>
<path fill="#df0000" d="M348.5 139l3.5-1.5 3-1 3 0.5 3 1.5 3 2 9 8.5 15 12.5 9 6 6 3 9 1 24-2.5 12 0 6 1 6 1 3 1.5 3 2 1.5 3.5 0.5 3-1.5 9-3.5 9-12 25.5-3 4.5-3 2.5-3 1.5-6-0.5-9-3-15-8.5-6-2.5-6-1.5-6-0.5-6 1-6 1.5-9 4.5-6 4-8 7.5-7 9-6 9.5-6 11.5-3 9-4 18-6.5 18-1 6-1.5 12-1 6-2.5 6-4.5 5.5-6 5.5-12 8-21 15.5-7.5 4.5-16.5 7.5-12 8-6 4.5-3.5 4-7.5 12-4 5.5-4 3.5-4 3-7 3.5-9 2.5-6 0-8.5-3-4-3-2.5-3-1.5-3-1-6 0-6 2-12 10-27 3-12 0.5-12-3-21-0.5-6 1-9 2.5-6 5-7.5 11.5-13.5 9.5-15 6-7.5 6-6 6-4 24-11 6-3.5 6-4.5 7.5-8.5 10-18 8.5-12 22-21.5 21-23.5 6-5.5 5.5-3.5z"/>
<path fill="#d20000" d="M345.5 145l3.5-2 6-1 3 0.5 3 1.5 6 5 14 14 6.5 9 4.5 9 1.5 6-0.5 3-3 6-5.5 6-6.5 6-14 11-9 9.5-12 16.5-10.5 17-3 9-2 21-5.5 18-2 18-2 6-1 3-4 5-4 4-14 10-18 14-9 5-18 8-6 3.5-6 4.5-9.5 9-8.5 13.5-3.5 4.5-7 6-7.5 4-6 1-6 0-5-2-4-3-3-5-1-4-0.5-6 0.5-6 1.5-6 10.5-27 3.5-12 1-9 0-6-2.5-18-0.5-6 1.5-6 1.5-3 5.5-7.5 12.5-13.5 8.5-12.5 4.5-5.5 4.5-4 12-4.5 3-1.5 13-14 11.5-9 6.5-6 5-7 9.5-20 8-12 18.5-18.5 18-20 6-5.5 5.5-4zM442 175l6 0.5 3 1 3 1.5 2.5 3 0.5 3-0.5 3-2.5 4-3 2.5-9 2.5-9 4-6 0-3-1.5-3.5-2.5-2-3 0-3 1-3 2-3 3.5-3 5-3 6-2 6-1z"/>
<path fill="#c60000" d="M347 148l5-1.5 3 0 3 1 3 1.5 6 5 7.5 9 3.5 6 2 6 0 6-1.5 6-6.5 12-5 6-9 9.5-6 7-23.5 34.5-5.5 9-1.5 6 1.5 15-0.5 6-5 18-1 12-0.5 6-3 7-3 4-4.5 4-16.5 11.5-15 12.5-9 5-18 7-9 5.5-6 5.5-6 6.5-12 17.5-6 6-6 3-6 1.5-4.5-0.5-4.5-2-3-3-2-4-1-6 0.5-6 2.5-9.5 11-26.5 3.5-12 2-12-0.5-21 2-5 3-3.5 6-4 15-6 18-8 6-3.5 6-5.5 3-4 2-5.5-3-12 0-3 0-3 2.5-6 5-6 13-12 5-6 2.5-5.5 5.5-15.5 3-6 6.5-8.5 18-18.5 15-17 6-5.5 7-4.5z"/>
<path fill="#b90000" d="M349 151l3-0.5 3 0.5 3 1 3.5 2 6 6 3.5 6 1.5 3 1 6-1 6-2.5 6-5 9-16 19.5-14 22.5-16 21-4 6-1 3-0.5 3 4.5 12 0.5 3 0 6-1.5 6-3.5 12-1 15-2.5 6.5-3 4-3 3-18 12-16 13.5-8 3.5-15 4.5-6 2.5-3 2-9 9-9 11.5-9 12.5-3 3-3 2.5-6 2.5-3 0.5-3-1-3-2-2-3-0.5-3-0.5-6 1-6 5-13.5 11-22.5 7-17.5 3-6.5 3-3.5 3-2 12-4 9-5 6-5 6-6.5 3-4.5 6-12 4-11.5 0.5-6-2-9-1-6 0.5-3 2.5-6 5-6 10-9 6-6 1.5-3 4.5-18 3-6 6-9 34.5-37.5 6-5 6-2.5z"/>
<path fill="#ac0000" d="M343 157l6-2.5 3 0 3 0.5 3 1.5 3 2 3.5 4.5 3 6 0.5 3-0.5 6-2 6-1.5 3-4 6-15 18-9.5 18-3.5 6-22 26.5-3.5 6.5-1 3 0 3 4.5 4.5 3 4.5 1.5 6-0.5 6-5 15 0 12-2 6-3 4-3 2.5-15 7-6 4-12 12-3 2-3 1.5-6 0.5-18 0.5-3 0.5-2.5 1.5-2 3-7 15-3.5 6-3 3.5-12 12.5-3 2-3.5 0-3-3 0-3 0.5-6 3-8.5 3-6.5 6-9 3-3.5 6-5 9-4.5 3-2 4.5-6 5.5-6 19.5-15 5-6 2.5-6 4-30 0-9-2.5-12 1-6 1-3 4.5-6 17.5-15 2-3 1-12 1.5-6 2.5-6 5.5-9 30-34.5 9-7.5z"/>
<path fill="#9f0000" d="M344 160l5-2 3 0 3 1 3 2 3 4 1.5 4 1 3-0.5 6-2.5 6-2.5 3.5-4.5 5.5-8.5 9-4 6-3.5 6-4.5 12-3.5 6-19.5 22.5-6 7.5-1.5 3-2.5 6-0.5 3 1 3 4.5 3 3.5 3 1.5 3 0.5 3-0.5 6-5.5 15-0.5 6 0 6-1.5 3-1.5 2-3 1.5-6 1-3-0.5-3-2-4-5-3.5-6-2-6-1-9-1-18-3.5-15 0.5-6 0.5-3 2-3.5 5-5.5 10-8.5 6-3.5 3-3 0.5-3-1-9 1-6 1.5-6 3.5-6 9-12 9.5-10 12-15 6-5.5 4-2.5z"/>
<path fill="#930000" d="M345 163l4-1 3 0.5 3 2 3 4.5 0.5 3-0.5 6-2.5 6-5 6-7.5 6-3 3.5-6 12-5 14.5-3.5 6-9.5 9.5-6.5 5.5-9 15-4 9-1 3 0.5 3 2 2.5 5.5 3.5 2.5 3 0.5 3-0.5 3-2 5.5-6 9-3 3-3 1-3-1.5-3-3-3-6.5-4-16.5-4.5-12-0.5-6 1.5-6 4.5-6 9-8 10-4 2-2 1-4-1.5-9 0-6 2-6 1.5-3.5 10-14.5 11-11.5 9-12.5 6-6 5-3z"/>
<path fill="#860000" d="M342 169l4-2 3 0 3 2 1.5 3 0.5 3 0 3-1 3-4 5.5-3 3-3 1.5-6 0-3 2 0.5 6-1.5 6-3 6-3.5 12-3 6-4.5 5.5-6 4.5-3 1-3-1-3-6.5-1-6.5 0.5-6 2-6 10.5-15.5 3-3.5 9-6 1.5-2 3.5-9 4-5.5 5-3.5zM292 247l3-0.5 3 0 1 0.5 2.5 3 0 3-1 3-8 15-2.5 6-0.5 3 0 3 8.5 3.5 1.5 2.5-1.5 3.5-3 1.5-3-1-0.5-1-1.5-3-1.5-6-5.5-4.5-3-3.5-2-4-0.5-3 0.5-6 3.5-6 5.5-6 5-3z"/>
<path fill="#fff" fill-rule="evenodd" d="M122.0 51.4 357.0 51.4 357.0 59.1 346.5 59.1 346.5 63.8 341.3 63.8 341.3 68.6 336.0 68.6 336.0 78.0 320.3 78.0 320.3 82.7 315.1 82.7 315.1 87.4 309.8 87.4 309.8 92.1 283.6 92.1 283.6 96.8 288.9 96.8 288.9 106.2 304.6 106.2 304.6 153.3 299.3 153.3 299.3 167.4 294.1 167.4 294.1 181.5 288.9 181.5 288.9 200.3 283.6 200.3 283.6 219.1 278.4 219.1 278.4 223.8 236.4 223.8 236.4 228.5 215.5 228.5 215.5 233.2 210.2 233.2 210.2 238.0 205.0 238.0 205.0 242.7 199.7 242.7 199.7 247.4 194.5 247.4 194.5 252.1 189.2 252.1 189.2 261.5 178.8 261.5 178.8 270.9 173.5 270.9 173.5 280.3 168.3 280.3 168.3 285.0 163.0 285.0 163.0 289.7 157.8 289.7 157.8 299.1 152.5 299.1 152.5 303.8 147.3 303.8 147.3 327.4 152.5 327.4 152.5 336.8 147.3 336.8 147.3 355.6 152.5 355.6 152.5 369.7 147.3 369.7 147.3 379.1 142.1 379.1 142.1 402.6 136.8 402.6 136.8 430.9 142.1 430.9 142.1 449.7 136.8 449.7 136.8 459.1 131.6 459.1 131.6 463.8 122.0 463.8ZM283.6 78.0H299.3V92.1H283.6Z"/>
</g>
<path d="M194.5 56.0V564.0M265.5 56.0V564.0M336.5 56.0V564.0M407.5 56.0V564.0M477.5 56.0V564.0M548.5 56.0V564.0M619.5 56.0V564.0M125.0 106.5H675.0M125.0 191.5H675.0M125.0 276.5H675.0M125.0 360.5H675.0M125.0 445.5H675.0M125.0 530.5H675.0" fill="none" stroke="#b2b2b2" stroke-width="1" stroke-dasharray="2 4.5" stroke-dashoffset="-5" shape-rendering="crispEdges"/>
<g clip-path="url(#c)"><path d="M349.5 54.5 346.0 57.5 341.0 61.6 336.0 65.7 331.0 69.5 326.0 73.2 321.0 76.9 316.0 80.3 311.0 83.6 306.0 87.2 301.0 90.6 297.0 93.0 293.5 95.8 290.0 99.3 287.0 102.3 284.0 105.3 281.2 108.0 280.5 110.6 282.5 113.2 285.0 115.2 288.6 112.0 292.5 112.5 296.3 115.0 300.0 113.8 301.9 116.3 299.6 120.6 301.3 125.0 302.5 131.3 301.9 137.5 299.6 143.8 297.6 150.0 295.6 153.8 290.0 155.0 283.8 155.0 285.0 158.8 287.5 162.5 293.0 165.6 291.3 169.4 289.2 172.0 288.1 175.0 287.9 180.0 288.1 187.5 286.9 193.8 284.6 198.8 283.8 205.0 282.5 211.3 281.3 216.3 278.8 219.4 275.0 221.9 268.8 222.6 261.3 222.6 253.8 223.6 245.0 224.6 237.5 225.2 231.3 225.8 225.0 227.0 220.0 228.2 215.0 229.5 210.0 231.2M183.6 257.3 182.5 260.5 178.8 267.5 175.0 273.5 170.0 278.0 165.0 281.9 161.3 284.4 157.5 288.8 155.0 293.1 153.1 298.8 151.3 303.1 147.5 304.4 144.4 305.0 143.1 308.8 142.3 313.8 143.1 317.5 145.0 321.3 146.3 325.0 146.9 329.4 144.4 332.5 142.5 335.6 145.0 338.8 145.6 345.0 146.3 351.3 146.9 356.3 147.5 361.3 146.3 366.3 144.4 371.3 142.5 376.3 140.6 381.3 138.8 386.3 136.5 391.3 135.4 395.0 135.6 400.0 136.3 403.8 135.0 407.5 133.1 411.9 134.4 416.3 135.0 422.5 135.0 430.0 136.9 433.1 138.8 436.9 137.5 441.3 135.0 446.3 132.5 451.3 130.0 455.0 126.3 458.8 124.0 461.5M124.0 404.4 128.8 404.8 132.5 404.4 136.3 403.8M285.0 55.0 284.0 62.0 283.0 68.0 282.0 73.0 279.6 77.0 279.0 82.0 279.2 87.0 279.6 92.0 280.5 96.0 281.8 98.4 286.0 98.4 290.0 97.5 293.5 95.8M292.0 55.0 291.5 62.0 291.5 67.0 292.0 72.0 295.0 76.0 297.5 79.0 298.0 83.0 299.0 87.0 300.5 90.5M300.0 89.5 304.0 85.5 308.0 83.0 312.0 80.3 315.2 77.6 313.0 75.0 310.0 72.0 309.5 70.0 311.0 67.0 313.0 64.5 317.0 62.5 320.5 61.0 323.0 64.0 325.0 67.0 327.0 65.0 326.0 62.0 325.0 59.5 327.0 57.0 329.5 56.6 331.0 59.0 330.0 61.0M124.0 144.4 132.5 148.8 142.5 149.4 148.8 151.9 163.8 151.9 166.3 150.6 164.4 148.1 162.5 145.6 170.6 136.3 175.0 138.1 181.9 143.1 188.8 142.5 193.8 135.6 205.0 130.0 213.8 127.5 217.5 126.3 222.5 121.9 230.0 119.4 238.1 116.3 244.4 118.8 252.5 116.3 257.5 118.8 265.0 121.3 272.5 123.8 278.1 126.3 283.8 130.6 288.1 136.3 290.0 142.5 290.0 150.0 289.4 155.0M190.0 188.8 193.8 191.3 200.0 191.3 205.0 193.1 208.8 195.6 211.3 198.1 206.3 200.6 202.5 203.8 200.0 207.5 201.3 211.3 201.3 215.6 205.0 217.5 211.3 218.8 215.6 220.0 215.0 223.8 214.4 228.5M190.0 188.8 186.3 191.9 181.3 195.6 178.1 199.4 176.3 205.0 177.5 210.0 180.6 213.8 184.4 216.9 186.3 221.3 186.9 226.3 185.6 230.6 182.5 232.5 177.5 233.8 172.5 235.0 169.4 237.5 167.5 241.3 166.3 246.3 165.0 251.4 167.0 252.0 170.0 250.9 173.0 249.0 175.3 246.8 177.5 244.5 179.8 241.5 181.6 239.6 185.0 240.4 188.0 241.1 190.6 243.0 191.8 245.3 194.0 247.5M181.5 244.0 185.0 243.0 188.3 243.8 187.5 246.5 185.0 247.5 186.0 250.5 187.5 252.0M210.0 231.2 205.0 230.6 200.0 231.9 195.0 233.1 191.3 234.4 193.1 238.8 195.0 241.3 200.0 237.5 205.0 233.8 210.5 230.3M173.0 252.8 170.0 255.0 165.5 258.0 163.3 260.5 161.9 265.0 161.0 271.3 160.0 277.5 159.4 282.5M182.5 260.0 178.8 262.5 173.8 265.6 168.8 269.4 163.8 273.8 160.6 277.5 159.4 282.2" fill="none" stroke="#000" stroke-width="3" stroke-linejoin="round" stroke-linecap="butt" shape-rendering="crispEdges"/></g>
<rect x="124.0" y="55.0" width="551.0" height="509.0" fill="none" stroke="#000" stroke-width="2"/>
<path d="M124.5 565.0v3M194.5 565.0v3M265.5 565.0v3M336.5 565.0v3M407.5 565.0v3M477.5 565.0v3M548.5 565.0v3M619.5 565.0v3M123.0 106.5h-3.5M123.0 191.5h-3.5M123.0 276.5h-3.5M123.0 360.5h-3.5M123.0 445.5h-3.5M123.0 530.5h-3.5" fill="none" stroke="#000" stroke-width="1" shape-rendering="crispEdges"/>
<text class="t" x="111.6" y="580" font-size="14" textLength="24.6" lengthAdjust="spacingAndGlyphs">28.5</text>
<text class="t" x="187.7" y="580" font-size="14" textLength="14.0" lengthAdjust="spacingAndGlyphs">29</text>
<text class="t" x="253.2" y="580" font-size="14" textLength="24.6" lengthAdjust="spacingAndGlyphs">29.5</text>
<text class="t" x="329.2" y="580" font-size="14" textLength="14.0" lengthAdjust="spacingAndGlyphs">30</text>
<text class="t" x="394.7" y="580" font-size="14" textLength="24.6" lengthAdjust="spacingAndGlyphs">30.5</text>
<text class="t" x="470.8" y="580" font-size="14" textLength="14.0" lengthAdjust="spacingAndGlyphs">31</text>
<text class="t" x="536.3" y="580" font-size="14" textLength="24.6" lengthAdjust="spacingAndGlyphs">31.5</text>
<text class="t" x="612.4" y="580" font-size="14" textLength="14.0" lengthAdjust="spacingAndGlyphs">32</text>
<text class="t" x="103.5" y="534.6" font-size="13.8" textLength="14.3" lengthAdjust="spacingAndGlyphs">43</text>
<text class="t" x="92.6" y="449.9" font-size="13.8" textLength="25.2" lengthAdjust="spacingAndGlyphs">43.5</text>
<text class="t" x="103.5" y="365.2" font-size="13.8" textLength="14.3" lengthAdjust="spacingAndGlyphs">44</text>
<text class="t" x="92.6" y="280.5" font-size="13.8" textLength="25.2" lengthAdjust="spacingAndGlyphs">44.5</text>
<text class="t" x="103.5" y="195.8" font-size="13.8" textLength="14.3" lengthAdjust="spacingAndGlyphs">45</text>
<text class="t" x="92.6" y="111.1" font-size="13.8" textLength="25.2" lengthAdjust="spacingAndGlyphs">45.5</text>
<text class="h" y="42.6" font-size="25.5"><tspan x="60.5" textLength="40" lengthAdjust="spacingAndGlyphs">Sea</tspan> <tspan x="113" textLength="61.2" lengthAdjust="spacingAndGlyphs">Level</tspan> <tspan x="183.5" textLength="61" lengthAdjust="spacingAndGlyphs">(cm).</tspan> <tspan x="258.7" textLength="51.3" lengthAdjust="spacingAndGlyphs">Date</tspan> <tspan x="323.3" textLength="137.5" lengthAdjust="spacingAndGlyphs">2019.03.12.</tspan> <tspan x="475.5" textLength="50.5" lengthAdjust="spacingAndGlyphs">Time</tspan> <tspan x="539" textLength="142" lengthAdjust="spacingAndGlyphs">00(h):00(m)</tspan> <tspan x="695" textLength="45" lengthAdjust="spacingAndGlyphs">GMT</tspan></text>
<text class="b" y="605.5" font-size="20"><tspan x="322.5" textLength="87" lengthAdjust="spacingAndGlyphs">Langitude</tspan> <tspan x="421.5" textLength="56" lengthAdjust="spacingAndGlyphs">(East)</tspan></text>
<text class="b" transform="translate(82,375.5) rotate(-90)" font-size="20.5"><tspan x="0" textLength="63" lengthAdjust="spacingAndGlyphs">Latitude</tspan> <tspan x="71.5" textLength="66" lengthAdjust="spacingAndGlyphs">(North)</tspan></text>
<text y="109.9" font-size="20.3" fill="#000" stroke="#fff" stroke-width="0.45"><tspan x="146.5" textLength="12.4" lengthAdjust="spacingAndGlyphs">Z</tspan> <tspan x="175" textLength="16" lengthAdjust="spacingAndGlyphs">=</tspan> <tspan x="205.5" textLength="36" lengthAdjust="spacingAndGlyphs">2.5</tspan> <tspan x="255.5" textLength="21" lengthAdjust="spacingAndGlyphs">m</tspan></text>

<g shape-rendering="crispEdges"><rect x="707.9" y="550.40" width="16.1" height="6.20" fill="#000086"/><rect x="707.9" y="544.21" width="16.1" height="6.60" fill="#000093"/><rect x="707.9" y="538.01" width="16.1" height="6.60" fill="#00009f"/><rect x="707.9" y="531.81" width="16.1" height="6.60" fill="#0000ac"/><rect x="707.9" y="525.61" width="16.1" height="6.60" fill="#0000b9"/><rect x="707.9" y="519.42" width="16.1" height="6.60" fill="#0000c6"/><rect x="707.9" y="513.22" width="16.1" height="6.60" fill="#0000d2"/><rect x="707.9" y="507.02" width="16.1" height="6.60" fill="#0000df"/><rect x="707.9" y="500.82" width="16.1" height="6.60" fill="#0000ec"/><rect x="707.9" y="494.63" width="16.1" height="6.60" fill="#0000f9"/><rect x="707.9" y="488.43" width="16.1" height="6.60" fill="#0006ff"/><rect x="707.9" y="482.23" width="16.1" height="6.60" fill="#0013ff"/><rect x="707.9" y="476.03" width="16.1" height="6.60" fill="#0020ff"/><rect x="707.9" y="469.84" width="16.1" height="6.60" fill="#002dff"/><rect x="707.9" y="463.64" width="16.1" height="6.60" fill="#0039ff"/><rect x="707.9" y="457.44" width="16.1" height="6.60" fill="#0046ff"/><rect x="707.9" y="451.24" width="16.1" height="6.60" fill="#0053ff"/><rect x="707.9" y="445.05" width="16.1" height="6.60" fill="#0060ff"/><rect x="707.9" y="438.85" width="16.1" height="6.60" fill="#006cff"/><rect x="707.9" y="432.65" width="16.1" height="6.60" fill="#0079ff"/><rect x="707.9" y="426.45" width="16.1" height="6.60" fill="#0086ff"/><rect x="707.9" y="420.25" width="16.1" height="6.60" fill="#0093ff"/><rect x="707.9" y="414.06" width="16.1" height="6.60" fill="#009fff"/><rect x="707.9" y="407.86" width="16.1" height="6.60" fill="#00acff"/><rect x="707.9" y="401.66" width="16.1" height="6.60" fill="#00b9ff"/><rect x="707.9" y="395.47" width="16.1" height="6.60" fill="#00c6ff"/><rect x="707.9" y="389.27" width="16.1" height="6.60" fill="#00d2ff"/><rect x="707.9" y="383.07" width="16.1" height="6.60" fill="#00dfff"/><rect x="707.9" y="376.87" width="16.1" height="6.60" fill="#00ecff"/><rect x="707.9" y="370.68" width="16.1" height="6.60" fill="#00f9ff"/><rect x="707.9" y="364.48" width="16.1" height="6.60" fill="#06fff9"/><rect x="707.9" y="358.28" width="16.1" height="6.60" fill="#13ffec"/><rect x="707.9" y="352.08" width="16.1" height="6.60" fill="#20ffdf"/><rect x="707.9" y="345.89" width="16.1" height="6.60" fill="#2dffd2"/><rect x="707.9" y="339.69" width="16.1" height="6.60" fill="#39ffc6"/><rect x="707.9" y="333.49" width="16.1" height="6.60" fill="#46ffb9"/><rect x="707.9" y="327.29" width="16.1" height="6.60" fill="#53ffac"/><rect x="707.9" y="321.10" width="16.1" height="6.60" fill="#60ff9f"/><rect x="707.9" y="314.90" width="16.1" height="6.60" fill="#6cff93"/><rect x="707.9" y="308.70" width="16.1" height="6.60" fill="#79ff86"/><rect x="707.9" y="302.50" width="16.1" height="6.60" fill="#86ff79"/><rect x="707.9" y="296.31" width="16.1" height="6.60" fill="#93ff6c"/><rect x="707.9" y="290.11" width="16.1" height="6.60" fill="#9fff60"/><rect x="707.9" y="283.91" width="16.1" height="6.60" fill="#acff53"/><rect x="707.9" y="277.71" width="16.1" height="6.60" fill="#b9ff46"/><rect x="707.9" y="271.52" width="16.1" height="6.60" fill="#c6ff39"/><rect x="707.9" y="265.32" width="16.1" height="6.60" fill="#d2ff2d"/><rect x="707.9" y="259.12" width="16.1" height="6.60" fill="#dfff20"/><rect x="707.9" y="252.92" width="16.1" height="6.60" fill="#ecff13"/><rect x="707.9" y="246.73" width="16.1" height="6.60" fill="#f9ff06"/><rect x="707.9" y="240.53" width="16.1" height="6.60" fill="#fff900"/><rect x="707.9" y="234.33" width="16.1" height="6.60" fill="#ffec00"/><rect x="707.9" y="228.13" width="16.1" height="6.60" fill="#ffdf00"/><rect x="707.9" y="221.94" width="16.1" height="6.60" fill="#ffd200"/><rect x="707.9" y="215.74" width="16.1" height="6.60" fill="#ffc600"/><rect x="707.9" y="209.54" width="16.1" height="6.60" fill="#ffb900"/><rect x="707.9" y="203.34" width="16.1" height="6.60" fill="#ffac00"/><rect x="707.9" y="197.15" width="16.1" height="6.60" fill="#ff9f00"/><rect x="707.9" y="190.95" width="16.1" height="6.60" fill="#ff9300"/><rect x="707.9" y="184.75" width="16.1" height="6.60" fill="#ff8600"/><rect x="707.9" y="178.55" width="16.1" height="6.60" fill="#ff7900"/><rect x="707.9" y="172.36" width="16.1" height="6.60" fill="#ff6c00"/><rect x="707.9" y="166.16" width="16.1" height="6.60" fill="#ff6000"/><rect x="707.9" y="159.96" width="16.1" height="6.60" fill="#ff5300"/><rect x="707.9" y="153.76" width="16.1" height="6.60" fill="#ff4600"/><rect x="707.9" y="147.57" width="16.1" height="6.60" fill="#ff3900"/><rect x="707.9" y="141.37" width="16.1" height="6.60" fill="#ff2d00"/><rect x="707.9" y="135.17" width="16.1" height="6.60" fill="#ff2000"/><rect x="707.9" y="128.97" width="16.1" height="6.60" fill="#ff1300"/><rect x="707.9" y="122.78" width="16.1" height="6.60" fill="#ff0600"/><rect x="707.9" y="116.58" width="16.1" height="6.60" fill="#f90000"/><rect x="707.9" y="110.38" width="16.1" height="6.60" fill="#ec0000"/><rect x="707.9" y="104.18" width="16.1" height="6.60" fill="#df0000"/><rect x="707.9" y="97.99" width="16.1" height="6.60" fill="#d20000"/><rect x="707.9" y="91.79" width="16.1" height="6.60" fill="#c60000"/><rect x="707.9" y="85.59" width="16.1" height="6.60" fill="#b90000"/><rect x="707.9" y="79.39" width="16.1" height="6.60" fill="#ac0000"/><rect x="707.9" y="73.20" width="16.1" height="6.60" fill="#9f0000"/><rect x="707.9" y="67.00" width="16.1" height="6.60" fill="#930000"/><rect x="707.9" y="60.80" width="16.1" height="6.60" fill="#860000"/></g>
<text class="t" x="735.3" y="74.0" font-size="14" textLength="29" lengthAdjust="spacingAndGlyphs">1.27</text>
<text class="t" x="735.3" y="190.0" font-size="14" textLength="29" lengthAdjust="spacingAndGlyphs">1.22</text>
<text class="t" x="735.3" y="312.0" font-size="14" textLength="29" lengthAdjust="spacingAndGlyphs">1.16</text>
<text class="t" x="735.3" y="434.0" font-size="14" textLength="29" lengthAdjust="spacingAndGlyphs">1.10</text>
<text class="t" x="735.3" y="556.0" font-size="14" textLength="29" lengthAdjust="spacingAndGlyphs">1.04</text>
</svg></body></html>
